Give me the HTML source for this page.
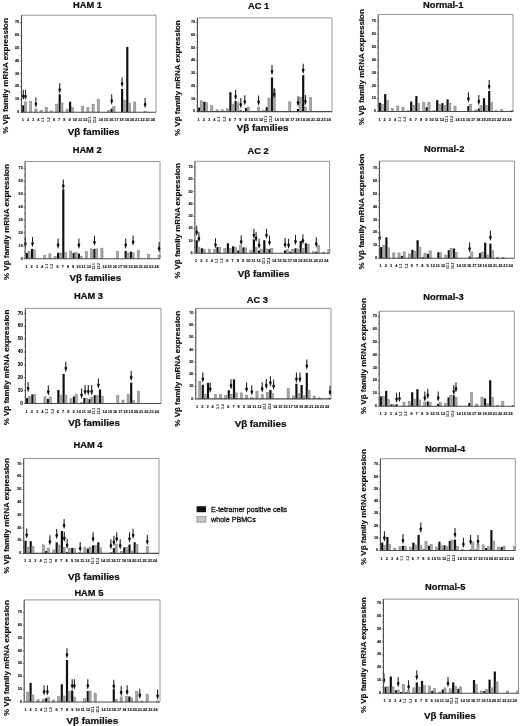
<!DOCTYPE html>
<html><head><meta charset="utf-8"><style>
html,body{margin:0;padding:0;background:#fff;}
svg{display:block;font-family:"Liberation Sans", sans-serif;will-change:transform;}
</style></head><body>
<svg width="520" height="726" viewBox="0 0 520 726" fill="#111">
<rect width="520" height="726" fill="#fff"/>
<path d="M21.5 15.2H156V112.2" fill="none" stroke="#8a8a8a" stroke-width="0.9"/>
<rect x="22.2" y="105.29" width="2.2" height="6.91" fill="#111"/>
<rect x="24.4" y="101.83" width="2.2" height="10.37" fill="#a8a8a8" stroke="#7a7a7a" stroke-width="0.5"/>
<rect x="29.6" y="101.58" width="2.2" height="10.62" fill="#a8a8a8" stroke="#7a7a7a" stroke-width="0.5"/>
<rect x="34.8" y="109" width="2.2" height="3.2" fill="#a8a8a8" stroke="#7a7a7a" stroke-width="0.5"/>
<rect x="40" y="110.41" width="2.2" height="1.79" fill="#a8a8a8" stroke="#7a7a7a" stroke-width="0.5"/>
<rect x="45.2" y="107.34" width="2.2" height="4.86" fill="#a8a8a8" stroke="#7a7a7a" stroke-width="0.5"/>
<rect x="50.4" y="110.92" width="2.2" height="1.28" fill="#a8a8a8" stroke="#7a7a7a" stroke-width="0.5"/>
<rect x="55.6" y="104.14" width="2.2" height="8.06" fill="#a8a8a8" stroke="#7a7a7a" stroke-width="0.5"/>
<rect x="58.6" y="94.28" width="2.2" height="17.92" fill="#111"/>
<rect x="60.8" y="102.98" width="2.2" height="9.22" fill="#a8a8a8" stroke="#7a7a7a" stroke-width="0.5"/>
<rect x="66" y="109.13" width="2.2" height="3.07" fill="#a8a8a8" stroke="#7a7a7a" stroke-width="0.5"/>
<rect x="69" y="101.7" width="2.2" height="10.5" fill="#111"/>
<rect x="71.2" y="107.46" width="2.2" height="4.74" fill="#a8a8a8" stroke="#7a7a7a" stroke-width="0.5"/>
<rect x="81.6" y="106.31" width="2.2" height="5.89" fill="#a8a8a8" stroke="#7a7a7a" stroke-width="0.5"/>
<rect x="86.8" y="107.46" width="2.2" height="4.74" fill="#a8a8a8" stroke="#7a7a7a" stroke-width="0.5"/>
<rect x="92" y="104.14" width="2.2" height="8.06" fill="#a8a8a8" stroke="#7a7a7a" stroke-width="0.5"/>
<rect x="97.2" y="99.4" width="2.2" height="12.8" fill="#a8a8a8" stroke="#7a7a7a" stroke-width="0.5"/>
<rect x="107.6" y="110.41" width="2.2" height="1.79" fill="#a8a8a8" stroke="#7a7a7a" stroke-width="0.5"/>
<rect x="110.6" y="108.62" width="2.2" height="3.58" fill="#111"/>
<rect x="112.8" y="106.31" width="2.2" height="5.89" fill="#a8a8a8" stroke="#7a7a7a" stroke-width="0.5"/>
<rect x="121" y="88.9" width="2.2" height="23.3" fill="#111"/>
<rect x="123.2" y="100.04" width="2.2" height="12.16" fill="#a8a8a8" stroke="#7a7a7a" stroke-width="0.5"/>
<rect x="126.2" y="46.92" width="2.2" height="65.28" fill="#111"/>
<rect x="128.4" y="102.98" width="2.2" height="9.22" fill="#a8a8a8" stroke="#7a7a7a" stroke-width="0.5"/>
<rect x="133.6" y="101.96" width="2.2" height="10.24" fill="#a8a8a8" stroke="#7a7a7a" stroke-width="0.5"/>
<rect x="144" y="111.18" width="2.2" height="1.02" fill="#a8a8a8" stroke="#7a7a7a" stroke-width="0.5"/>
<path d="M23.3 89.74V96.04" stroke="#1a1a1a" stroke-width="1.05"/>
<path d="M23.3 94.14L24.75 95.74L23.3 100.04L21.85 95.74Z" fill="#111"/>
<path d="M25.5 89.74V96.04" stroke="#1a1a1a" stroke-width="1.05"/>
<path d="M25.5 94.14L26.95 95.74L25.5 100.04L24.05 95.74Z" fill="#111"/>
<path d="M35.9 97.55V103.85" stroke="#1a1a1a" stroke-width="1.05"/>
<path d="M35.9 101.95L37.35 103.55L35.9 107.85L34.45 103.55Z" fill="#111"/>
<path d="M59.7 83.34V89.64" stroke="#1a1a1a" stroke-width="1.05"/>
<path d="M59.7 87.74L61.15 89.34L59.7 93.64L58.25 89.34Z" fill="#111"/>
<path d="M111.7 94.35V100.65" stroke="#1a1a1a" stroke-width="1.05"/>
<path d="M111.7 98.75L113.15 100.35L111.7 104.65L110.25 100.35Z" fill="#111"/>
<path d="M122.1 77.2V83.5" stroke="#1a1a1a" stroke-width="1.05"/>
<path d="M122.1 81.6L123.55 83.2L122.1 87.5L120.65 83.2Z" fill="#111"/>
<path d="M145.1 98.06V104.36" stroke="#1a1a1a" stroke-width="1.05"/>
<path d="M145.1 102.46L146.55 104.06L145.1 108.36L143.65 104.06Z" fill="#111"/>
<path d="M21.5 15.2V112.2H156" fill="none" stroke="#4a4a4a" stroke-width="1.1"/>
<path d="M20.1 112.2H21.5" stroke="#333" stroke-width="0.6"/>
<text x="19.1" y="113.01" font-size="3.7" font-weight="bold" stroke="#000" stroke-width="0.12" text-anchor="end">0</text>
<path d="M20.6 105.8H21.5" stroke="#333" stroke-width="0.6"/>
<path d="M20.1 99.4H21.5" stroke="#333" stroke-width="0.6"/>
<text x="19.1" y="100.21" font-size="3.7" font-weight="bold" stroke="#000" stroke-width="0.12" text-anchor="end">10</text>
<path d="M20.6 93H21.5" stroke="#333" stroke-width="0.6"/>
<path d="M20.1 86.6H21.5" stroke="#333" stroke-width="0.6"/>
<text x="19.1" y="87.41" font-size="3.7" font-weight="bold" stroke="#000" stroke-width="0.12" text-anchor="end">20</text>
<path d="M20.6 80.2H21.5" stroke="#333" stroke-width="0.6"/>
<path d="M20.1 73.8H21.5" stroke="#333" stroke-width="0.6"/>
<text x="19.1" y="74.61" font-size="3.7" font-weight="bold" stroke="#000" stroke-width="0.12" text-anchor="end">30</text>
<path d="M20.6 67.4H21.5" stroke="#333" stroke-width="0.6"/>
<path d="M20.1 61H21.5" stroke="#333" stroke-width="0.6"/>
<text x="19.1" y="61.81" font-size="3.7" font-weight="bold" stroke="#000" stroke-width="0.12" text-anchor="end">40</text>
<path d="M20.6 54.6H21.5" stroke="#333" stroke-width="0.6"/>
<path d="M20.1 48.2H21.5" stroke="#333" stroke-width="0.6"/>
<text x="19.1" y="49.01" font-size="3.7" font-weight="bold" stroke="#000" stroke-width="0.12" text-anchor="end">50</text>
<path d="M20.6 41.8H21.5" stroke="#333" stroke-width="0.6"/>
<path d="M20.1 35.4H21.5" stroke="#333" stroke-width="0.6"/>
<text x="19.1" y="36.21" font-size="3.7" font-weight="bold" stroke="#000" stroke-width="0.12" text-anchor="end">60</text>
<path d="M20.6 29H21.5" stroke="#333" stroke-width="0.6"/>
<path d="M20.1 22.6H21.5" stroke="#333" stroke-width="0.6"/>
<text x="19.1" y="23.41" font-size="3.7" font-weight="bold" stroke="#000" stroke-width="0.12" text-anchor="end">70</text>
<text x="22.8" y="121.2" font-size="3.9" font-weight="bold" stroke="#000" stroke-width="0.1" text-anchor="middle">1</text>
<text x="28" y="121.2" font-size="3.9" font-weight="bold" stroke="#000" stroke-width="0.1" text-anchor="middle">2</text>
<text x="33.2" y="121.2" font-size="3.9" font-weight="bold" stroke="#000" stroke-width="0.1" text-anchor="middle">3</text>
<text x="38.4" y="121.2" font-size="3.9" font-weight="bold" stroke="#000" stroke-width="0.1" text-anchor="middle">4</text>
<text x="44.5" y="119.8" font-size="3.315" font-weight="bold" text-anchor="middle" transform="rotate(-90 44.5 119.8)">5.1</text>
<text x="49.7" y="119.8" font-size="3.315" font-weight="bold" text-anchor="middle" transform="rotate(-90 49.7 119.8)">5.2</text>
<text x="54" y="121.2" font-size="3.9" font-weight="bold" stroke="#000" stroke-width="0.1" text-anchor="middle">6</text>
<text x="59.2" y="121.2" font-size="3.9" font-weight="bold" stroke="#000" stroke-width="0.1" text-anchor="middle">7</text>
<text x="64.4" y="121.2" font-size="3.9" font-weight="bold" stroke="#000" stroke-width="0.1" text-anchor="middle">8</text>
<text x="69.6" y="121.2" font-size="3.9" font-weight="bold" stroke="#000" stroke-width="0.1" text-anchor="middle">9</text>
<text x="74.8" y="121.2" font-size="3.9" font-weight="bold" stroke="#000" stroke-width="0.1" text-anchor="middle">10</text>
<text x="80" y="121.2" font-size="3.9" font-weight="bold" stroke="#000" stroke-width="0.1" text-anchor="middle">11</text>
<text x="85.2" y="121.2" font-size="3.9" font-weight="bold" stroke="#000" stroke-width="0.1" text-anchor="middle">12</text>
<text x="91.3" y="119.8" font-size="3.315" font-weight="bold" text-anchor="middle" transform="rotate(-90 91.3 119.8)">13.1</text>
<text x="96.5" y="119.8" font-size="3.315" font-weight="bold" text-anchor="middle" transform="rotate(-90 96.5 119.8)">13.2</text>
<text x="100.8" y="121.2" font-size="3.9" font-weight="bold" stroke="#000" stroke-width="0.1" text-anchor="middle">14</text>
<text x="106" y="121.2" font-size="3.9" font-weight="bold" stroke="#000" stroke-width="0.1" text-anchor="middle">15</text>
<text x="111.2" y="121.2" font-size="3.9" font-weight="bold" stroke="#000" stroke-width="0.1" text-anchor="middle">16</text>
<text x="116.4" y="121.2" font-size="3.9" font-weight="bold" stroke="#000" stroke-width="0.1" text-anchor="middle">17</text>
<text x="121.6" y="121.2" font-size="3.9" font-weight="bold" stroke="#000" stroke-width="0.1" text-anchor="middle">18</text>
<text x="126.8" y="121.2" font-size="3.9" font-weight="bold" stroke="#000" stroke-width="0.1" text-anchor="middle">19</text>
<text x="132" y="121.2" font-size="3.9" font-weight="bold" stroke="#000" stroke-width="0.1" text-anchor="middle">20</text>
<text x="137.2" y="121.2" font-size="3.9" font-weight="bold" stroke="#000" stroke-width="0.1" text-anchor="middle">21</text>
<text x="142.4" y="121.2" font-size="3.9" font-weight="bold" stroke="#000" stroke-width="0.1" text-anchor="middle">22</text>
<text x="147.6" y="121.2" font-size="3.9" font-weight="bold" stroke="#000" stroke-width="0.1" text-anchor="middle">23</text>
<text x="152.8" y="121.2" font-size="3.9" font-weight="bold" stroke="#000" stroke-width="0.1" text-anchor="middle">24</text>
<text x="73" y="7.9" font-size="9.3" font-weight="bold" stroke="#000" stroke-width="0.22">HAM 1</text>
<text x="8.45" y="76" font-size="8" font-weight="bold" stroke="#000" stroke-width="0.15" text-anchor="middle" transform="rotate(-90 8.45 76)">% V&#946; family mRNA expression</text>
<text x="93.7" y="134.5" font-size="9.8" font-weight="bold" stroke="#000" stroke-width="0.22" text-anchor="middle">V&#946; families</text>
<path d="M197.4 17.9H332V111.6" fill="none" stroke="#8a8a8a" stroke-width="0.9"/>
<rect x="198.1" y="107.52" width="2.2" height="4.08" fill="#111"/>
<rect x="200.3" y="100.76" width="2.2" height="10.84" fill="#a8a8a8" stroke="#7a7a7a" stroke-width="0.5"/>
<rect x="203.3" y="101.78" width="2.2" height="9.82" fill="#111"/>
<rect x="205.5" y="102.42" width="2.2" height="9.18" fill="#a8a8a8" stroke="#7a7a7a" stroke-width="0.5"/>
<rect x="210.7" y="105.73" width="2.2" height="5.86" fill="#a8a8a8" stroke="#7a7a7a" stroke-width="0.5"/>
<rect x="215.9" y="109.81" width="2.2" height="1.78" fill="#a8a8a8" stroke="#7a7a7a" stroke-width="0.5"/>
<rect x="221.1" y="109.81" width="2.2" height="1.78" fill="#a8a8a8" stroke="#7a7a7a" stroke-width="0.5"/>
<rect x="226.3" y="108.79" width="2.2" height="2.81" fill="#a8a8a8" stroke="#7a7a7a" stroke-width="0.5"/>
<rect x="229.3" y="92.22" width="2.2" height="19.38" fill="#111"/>
<rect x="231.5" y="104.46" width="2.2" height="7.14" fill="#a8a8a8" stroke="#7a7a7a" stroke-width="0.5"/>
<rect x="234.5" y="100.89" width="2.2" height="10.71" fill="#111"/>
<rect x="236.7" y="102.67" width="2.2" height="8.92" fill="#a8a8a8" stroke="#7a7a7a" stroke-width="0.5"/>
<rect x="239.7" y="110.32" width="2.2" height="1.27" fill="#111"/>
<rect x="244.9" y="108.03" width="2.2" height="3.57" fill="#111"/>
<rect x="247.1" y="107.01" width="2.2" height="4.59" fill="#a8a8a8" stroke="#7a7a7a" stroke-width="0.5"/>
<rect x="257.5" y="107.14" width="2.2" height="4.46" fill="#a8a8a8" stroke="#7a7a7a" stroke-width="0.5"/>
<rect x="262.7" y="110.58" width="2.2" height="1.02" fill="#a8a8a8" stroke="#7a7a7a" stroke-width="0.5"/>
<rect x="265.7" y="107.14" width="2.2" height="4.46" fill="#111"/>
<rect x="267.9" y="98.08" width="2.2" height="13.51" fill="#a8a8a8" stroke="#7a7a7a" stroke-width="0.5"/>
<rect x="270.9" y="77.43" width="2.2" height="34.17" fill="#111"/>
<rect x="273.1" y="89.54" width="2.2" height="22.06" fill="#a8a8a8" stroke="#7a7a7a" stroke-width="0.5"/>
<rect x="288.7" y="101.78" width="2.2" height="9.82" fill="#a8a8a8" stroke="#7a7a7a" stroke-width="0.5"/>
<rect x="296.9" y="108.92" width="2.2" height="2.68" fill="#111"/>
<rect x="299.1" y="97.06" width="2.2" height="14.54" fill="#a8a8a8" stroke="#7a7a7a" stroke-width="0.5"/>
<rect x="302.1" y="75.13" width="2.2" height="36.46" fill="#111"/>
<rect x="304.3" y="107.14" width="2.2" height="4.46" fill="#a8a8a8" stroke="#7a7a7a" stroke-width="0.5"/>
<rect x="309.5" y="97.32" width="2.2" height="14.28" fill="#a8a8a8" stroke="#7a7a7a" stroke-width="0.5"/>
<path d="M235.6 89.95V96.25" stroke="#1a1a1a" stroke-width="1.05"/>
<path d="M235.6 94.35L237.05 95.95L235.6 100.25L234.15 95.95Z" fill="#111"/>
<path d="M240.8 98.11V104.41" stroke="#1a1a1a" stroke-width="1.05"/>
<path d="M240.8 102.51L242.25 104.11L240.8 108.41L239.35 104.11Z" fill="#111"/>
<path d="M244.8 95.18V101.48" stroke="#1a1a1a" stroke-width="1.05"/>
<path d="M244.8 99.58L246.25 101.18L244.8 105.48L243.35 101.18Z" fill="#111"/>
<path d="M258.6 95.44V101.73" stroke="#1a1a1a" stroke-width="1.05"/>
<path d="M258.6 99.83L260.05 101.44L258.6 105.73L257.15 101.44Z" fill="#111"/>
<path d="M272 64.96V71.26" stroke="#1a1a1a" stroke-width="1.05"/>
<path d="M272 69.36L273.45 70.96L272 75.26L270.55 70.96Z" fill="#111"/>
<path d="M274.2 88.04V94.34" stroke="#1a1a1a" stroke-width="1.05"/>
<path d="M274.2 92.44L275.65 94.04L274.2 98.34L272.75 94.04Z" fill="#111"/>
<path d="M298 96.2V102.5" stroke="#1a1a1a" stroke-width="1.05"/>
<path d="M298 100.6L299.45 102.2L298 106.5L296.55 102.2Z" fill="#111"/>
<path d="M303.2 63.82V70.12" stroke="#1a1a1a" stroke-width="1.05"/>
<path d="M303.2 68.22L304.65 69.82L303.2 74.12L301.75 69.82Z" fill="#111"/>
<path d="M305.4 94.92V101.22" stroke="#1a1a1a" stroke-width="1.05"/>
<path d="M305.4 99.32L306.85 100.92L305.4 105.22L303.95 100.92Z" fill="#111"/>
<path d="M197.4 17.9V111.6H332" fill="none" stroke="#4a4a4a" stroke-width="1.1"/>
<path d="M196 111.6H197.4" stroke="#333" stroke-width="0.6"/>
<text x="195" y="112.41" font-size="3.7" font-weight="bold" stroke="#000" stroke-width="0.12" text-anchor="end">0</text>
<path d="M196.5 105.22H197.4" stroke="#333" stroke-width="0.6"/>
<path d="M196 98.85H197.4" stroke="#333" stroke-width="0.6"/>
<text x="195" y="99.66" font-size="3.7" font-weight="bold" stroke="#000" stroke-width="0.12" text-anchor="end">10</text>
<path d="M196.5 92.47H197.4" stroke="#333" stroke-width="0.6"/>
<path d="M196 86.1H197.4" stroke="#333" stroke-width="0.6"/>
<text x="195" y="86.91" font-size="3.7" font-weight="bold" stroke="#000" stroke-width="0.12" text-anchor="end">20</text>
<path d="M196.5 79.72H197.4" stroke="#333" stroke-width="0.6"/>
<path d="M196 73.35H197.4" stroke="#333" stroke-width="0.6"/>
<text x="195" y="74.16" font-size="3.7" font-weight="bold" stroke="#000" stroke-width="0.12" text-anchor="end">30</text>
<path d="M196.5 66.97H197.4" stroke="#333" stroke-width="0.6"/>
<path d="M196 60.6H197.4" stroke="#333" stroke-width="0.6"/>
<text x="195" y="61.41" font-size="3.7" font-weight="bold" stroke="#000" stroke-width="0.12" text-anchor="end">40</text>
<path d="M196.5 54.23H197.4" stroke="#333" stroke-width="0.6"/>
<path d="M196 47.85H197.4" stroke="#333" stroke-width="0.6"/>
<text x="195" y="48.66" font-size="3.7" font-weight="bold" stroke="#000" stroke-width="0.12" text-anchor="end">50</text>
<path d="M196.5 41.47H197.4" stroke="#333" stroke-width="0.6"/>
<path d="M196 35.1H197.4" stroke="#333" stroke-width="0.6"/>
<text x="195" y="35.91" font-size="3.7" font-weight="bold" stroke="#000" stroke-width="0.12" text-anchor="end">60</text>
<path d="M196.5 28.72H197.4" stroke="#333" stroke-width="0.6"/>
<path d="M196 22.35H197.4" stroke="#333" stroke-width="0.6"/>
<text x="195" y="23.16" font-size="3.7" font-weight="bold" stroke="#000" stroke-width="0.12" text-anchor="end">70</text>
<text x="198.7" y="120.6" font-size="3.9" font-weight="bold" stroke="#000" stroke-width="0.1" text-anchor="middle">1</text>
<text x="203.9" y="120.6" font-size="3.9" font-weight="bold" stroke="#000" stroke-width="0.1" text-anchor="middle">2</text>
<text x="209.1" y="120.6" font-size="3.9" font-weight="bold" stroke="#000" stroke-width="0.1" text-anchor="middle">3</text>
<text x="214.3" y="120.6" font-size="3.9" font-weight="bold" stroke="#000" stroke-width="0.1" text-anchor="middle">4</text>
<text x="220.4" y="119.2" font-size="3.315" font-weight="bold" text-anchor="middle" transform="rotate(-90 220.4 119.2)">5.1</text>
<text x="225.6" y="119.2" font-size="3.315" font-weight="bold" text-anchor="middle" transform="rotate(-90 225.6 119.2)">5.2</text>
<text x="229.9" y="120.6" font-size="3.9" font-weight="bold" stroke="#000" stroke-width="0.1" text-anchor="middle">6</text>
<text x="235.1" y="120.6" font-size="3.9" font-weight="bold" stroke="#000" stroke-width="0.1" text-anchor="middle">7</text>
<text x="240.3" y="120.6" font-size="3.9" font-weight="bold" stroke="#000" stroke-width="0.1" text-anchor="middle">8</text>
<text x="245.5" y="120.6" font-size="3.9" font-weight="bold" stroke="#000" stroke-width="0.1" text-anchor="middle">9</text>
<text x="250.7" y="120.6" font-size="3.9" font-weight="bold" stroke="#000" stroke-width="0.1" text-anchor="middle">10</text>
<text x="255.9" y="120.6" font-size="3.9" font-weight="bold" stroke="#000" stroke-width="0.1" text-anchor="middle">11</text>
<text x="261.1" y="120.6" font-size="3.9" font-weight="bold" stroke="#000" stroke-width="0.1" text-anchor="middle">12</text>
<text x="267.2" y="119.2" font-size="3.315" font-weight="bold" text-anchor="middle" transform="rotate(-90 267.2 119.2)">13.1</text>
<text x="272.4" y="119.2" font-size="3.315" font-weight="bold" text-anchor="middle" transform="rotate(-90 272.4 119.2)">13.2</text>
<text x="276.7" y="120.6" font-size="3.9" font-weight="bold" stroke="#000" stroke-width="0.1" text-anchor="middle">14</text>
<text x="281.9" y="120.6" font-size="3.9" font-weight="bold" stroke="#000" stroke-width="0.1" text-anchor="middle">15</text>
<text x="287.1" y="120.6" font-size="3.9" font-weight="bold" stroke="#000" stroke-width="0.1" text-anchor="middle">16</text>
<text x="292.3" y="120.6" font-size="3.9" font-weight="bold" stroke="#000" stroke-width="0.1" text-anchor="middle">17</text>
<text x="297.5" y="120.6" font-size="3.9" font-weight="bold" stroke="#000" stroke-width="0.1" text-anchor="middle">18</text>
<text x="302.7" y="120.6" font-size="3.9" font-weight="bold" stroke="#000" stroke-width="0.1" text-anchor="middle">19</text>
<text x="307.9" y="120.6" font-size="3.9" font-weight="bold" stroke="#000" stroke-width="0.1" text-anchor="middle">20</text>
<text x="313.1" y="120.6" font-size="3.9" font-weight="bold" stroke="#000" stroke-width="0.1" text-anchor="middle">21</text>
<text x="318.3" y="120.6" font-size="3.9" font-weight="bold" stroke="#000" stroke-width="0.1" text-anchor="middle">22</text>
<text x="323.5" y="120.6" font-size="3.9" font-weight="bold" stroke="#000" stroke-width="0.1" text-anchor="middle">23</text>
<text x="328.7" y="120.6" font-size="3.9" font-weight="bold" stroke="#000" stroke-width="0.1" text-anchor="middle">24</text>
<text x="248" y="8.8" font-size="9.3" font-weight="bold" stroke="#000" stroke-width="0.22">AC 1</text>
<text x="180.25" y="78.1" font-size="8" font-weight="bold" stroke="#000" stroke-width="0.15" text-anchor="middle" transform="rotate(-90 180.25 78.1)">% V&#946; family mRNA expression</text>
<text x="262.6" y="131.1" font-size="9.8" font-weight="bold" stroke="#000" stroke-width="0.22" text-anchor="middle">V&#946; families</text>
<path d="M378.2 14.4H513V111.5" fill="none" stroke="#8a8a8a" stroke-width="0.9"/>
<rect x="378.9" y="102.73" width="2.2" height="8.77" fill="#111"/>
<rect x="381.1" y="104.53" width="2.2" height="6.97" fill="#a8a8a8" stroke="#7a7a7a" stroke-width="0.5"/>
<rect x="384.1" y="94.09" width="2.2" height="17.41" fill="#111"/>
<rect x="386.3" y="100.15" width="2.2" height="11.35" fill="#a8a8a8" stroke="#7a7a7a" stroke-width="0.5"/>
<rect x="391.5" y="108.53" width="2.2" height="2.97" fill="#a8a8a8" stroke="#7a7a7a" stroke-width="0.5"/>
<rect x="396.7" y="106.08" width="2.2" height="5.42" fill="#a8a8a8" stroke="#7a7a7a" stroke-width="0.5"/>
<rect x="401.9" y="107.24" width="2.2" height="4.26" fill="#a8a8a8" stroke="#7a7a7a" stroke-width="0.5"/>
<rect x="407.1" y="110.6" width="2.2" height="0.9" fill="#a8a8a8" stroke="#7a7a7a" stroke-width="0.5"/>
<rect x="410.1" y="101.57" width="2.2" height="9.93" fill="#111"/>
<rect x="412.3" y="105.18" width="2.2" height="6.32" fill="#a8a8a8" stroke="#7a7a7a" stroke-width="0.5"/>
<rect x="415.3" y="96.02" width="2.2" height="15.48" fill="#111"/>
<rect x="417.5" y="103.5" width="2.2" height="8" fill="#a8a8a8" stroke="#7a7a7a" stroke-width="0.5"/>
<rect x="422.7" y="102.21" width="2.2" height="9.29" fill="#a8a8a8" stroke="#7a7a7a" stroke-width="0.5"/>
<rect x="425.7" y="107.24" width="2.2" height="4.26" fill="#111"/>
<rect x="427.9" y="102.21" width="2.2" height="9.29" fill="#a8a8a8" stroke="#7a7a7a" stroke-width="0.5"/>
<rect x="433.1" y="110.6" width="2.2" height="0.9" fill="#a8a8a8" stroke="#7a7a7a" stroke-width="0.5"/>
<rect x="436.1" y="100.15" width="2.2" height="11.35" fill="#111"/>
<rect x="438.3" y="104.28" width="2.2" height="7.22" fill="#a8a8a8" stroke="#7a7a7a" stroke-width="0.5"/>
<rect x="441.3" y="103.11" width="2.2" height="8.38" fill="#111"/>
<rect x="443.5" y="105.31" width="2.2" height="6.19" fill="#a8a8a8" stroke="#7a7a7a" stroke-width="0.5"/>
<rect x="446.5" y="99.37" width="2.2" height="12.13" fill="#111"/>
<rect x="448.7" y="103.11" width="2.2" height="8.38" fill="#a8a8a8" stroke="#7a7a7a" stroke-width="0.5"/>
<rect x="453.9" y="106.08" width="2.2" height="5.42" fill="#a8a8a8" stroke="#7a7a7a" stroke-width="0.5"/>
<rect x="467.3" y="106.08" width="2.2" height="5.42" fill="#111"/>
<rect x="469.5" y="104.28" width="2.2" height="7.22" fill="#a8a8a8" stroke="#7a7a7a" stroke-width="0.5"/>
<rect x="474.7" y="109.95" width="2.2" height="1.55" fill="#a8a8a8" stroke="#7a7a7a" stroke-width="0.5"/>
<rect x="477.7" y="108.53" width="2.2" height="2.97" fill="#111"/>
<rect x="479.9" y="105.57" width="2.2" height="5.93" fill="#a8a8a8" stroke="#7a7a7a" stroke-width="0.5"/>
<rect x="482.9" y="98.21" width="2.2" height="13.29" fill="#111"/>
<rect x="485.1" y="105.18" width="2.2" height="6.32" fill="#a8a8a8" stroke="#7a7a7a" stroke-width="0.5"/>
<rect x="488.1" y="90.99" width="2.2" height="20.51" fill="#111"/>
<rect x="490.3" y="102.21" width="2.2" height="9.29" fill="#a8a8a8" stroke="#7a7a7a" stroke-width="0.5"/>
<rect x="495.5" y="110.6" width="2.2" height="0.9" fill="#a8a8a8" stroke="#7a7a7a" stroke-width="0.5"/>
<rect x="500.7" y="109.18" width="2.2" height="2.32" fill="#a8a8a8" stroke="#7a7a7a" stroke-width="0.5"/>
<rect x="511.1" y="110.6" width="2.2" height="0.9" fill="#a8a8a8" stroke="#7a7a7a" stroke-width="0.5"/>
<path d="M468.4 92.17V98.47" stroke="#1a1a1a" stroke-width="1.05"/>
<path d="M468.4 96.57L469.85 98.17L468.4 102.47L466.95 98.17Z" fill="#111"/>
<path d="M478.8 94.88V101.18" stroke="#1a1a1a" stroke-width="1.05"/>
<path d="M478.8 99.28L480.25 100.88L478.8 105.18L477.35 100.88Z" fill="#111"/>
<path d="M489.2 79.92V86.22" stroke="#1a1a1a" stroke-width="1.05"/>
<path d="M489.2 84.31L490.65 85.92L489.2 90.22L487.75 85.92Z" fill="#111"/>
<path d="M378.2 14.4V111.5H513" fill="none" stroke="#4a4a4a" stroke-width="1.1"/>
<path d="M376.8 111.5H378.2" stroke="#333" stroke-width="0.6"/>
<text x="375.8" y="112.31" font-size="3.7" font-weight="bold" stroke="#000" stroke-width="0.12" text-anchor="end">0</text>
<path d="M377.3 105.05H378.2" stroke="#333" stroke-width="0.6"/>
<path d="M376.8 98.6H378.2" stroke="#333" stroke-width="0.6"/>
<text x="375.8" y="99.41" font-size="3.7" font-weight="bold" stroke="#000" stroke-width="0.12" text-anchor="end">10</text>
<path d="M377.3 92.15H378.2" stroke="#333" stroke-width="0.6"/>
<path d="M376.8 85.7H378.2" stroke="#333" stroke-width="0.6"/>
<text x="375.8" y="86.51" font-size="3.7" font-weight="bold" stroke="#000" stroke-width="0.12" text-anchor="end">20</text>
<path d="M377.3 79.25H378.2" stroke="#333" stroke-width="0.6"/>
<path d="M376.8 72.8H378.2" stroke="#333" stroke-width="0.6"/>
<text x="375.8" y="73.61" font-size="3.7" font-weight="bold" stroke="#000" stroke-width="0.12" text-anchor="end">30</text>
<path d="M377.3 66.35H378.2" stroke="#333" stroke-width="0.6"/>
<path d="M376.8 59.9H378.2" stroke="#333" stroke-width="0.6"/>
<text x="375.8" y="60.71" font-size="3.7" font-weight="bold" stroke="#000" stroke-width="0.12" text-anchor="end">40</text>
<path d="M377.3 53.45H378.2" stroke="#333" stroke-width="0.6"/>
<path d="M376.8 47H378.2" stroke="#333" stroke-width="0.6"/>
<text x="375.8" y="47.81" font-size="3.7" font-weight="bold" stroke="#000" stroke-width="0.12" text-anchor="end">50</text>
<path d="M377.3 40.55H378.2" stroke="#333" stroke-width="0.6"/>
<path d="M376.8 34.1H378.2" stroke="#333" stroke-width="0.6"/>
<text x="375.8" y="34.91" font-size="3.7" font-weight="bold" stroke="#000" stroke-width="0.12" text-anchor="end">60</text>
<path d="M377.3 27.65H378.2" stroke="#333" stroke-width="0.6"/>
<path d="M376.8 21.2H378.2" stroke="#333" stroke-width="0.6"/>
<text x="375.8" y="22.01" font-size="3.7" font-weight="bold" stroke="#000" stroke-width="0.12" text-anchor="end">70</text>
<text x="379.5" y="120.5" font-size="3.9" font-weight="bold" stroke="#000" stroke-width="0.1" text-anchor="middle">1</text>
<text x="384.7" y="120.5" font-size="3.9" font-weight="bold" stroke="#000" stroke-width="0.1" text-anchor="middle">2</text>
<text x="389.9" y="120.5" font-size="3.9" font-weight="bold" stroke="#000" stroke-width="0.1" text-anchor="middle">3</text>
<text x="395.1" y="120.5" font-size="3.9" font-weight="bold" stroke="#000" stroke-width="0.1" text-anchor="middle">4</text>
<text x="401.2" y="119.1" font-size="3.315" font-weight="bold" text-anchor="middle" transform="rotate(-90 401.2 119.1)">5.1</text>
<text x="406.4" y="119.1" font-size="3.315" font-weight="bold" text-anchor="middle" transform="rotate(-90 406.4 119.1)">5.2</text>
<text x="410.7" y="120.5" font-size="3.9" font-weight="bold" stroke="#000" stroke-width="0.1" text-anchor="middle">6</text>
<text x="415.9" y="120.5" font-size="3.9" font-weight="bold" stroke="#000" stroke-width="0.1" text-anchor="middle">7</text>
<text x="421.1" y="120.5" font-size="3.9" font-weight="bold" stroke="#000" stroke-width="0.1" text-anchor="middle">8</text>
<text x="426.3" y="120.5" font-size="3.9" font-weight="bold" stroke="#000" stroke-width="0.1" text-anchor="middle">9</text>
<text x="431.5" y="120.5" font-size="3.9" font-weight="bold" stroke="#000" stroke-width="0.1" text-anchor="middle">10</text>
<text x="436.7" y="120.5" font-size="3.9" font-weight="bold" stroke="#000" stroke-width="0.1" text-anchor="middle">11</text>
<text x="441.9" y="120.5" font-size="3.9" font-weight="bold" stroke="#000" stroke-width="0.1" text-anchor="middle">12</text>
<text x="448" y="119.1" font-size="3.315" font-weight="bold" text-anchor="middle" transform="rotate(-90 448 119.1)">13.1</text>
<text x="453.2" y="119.1" font-size="3.315" font-weight="bold" text-anchor="middle" transform="rotate(-90 453.2 119.1)">13.2</text>
<text x="457.5" y="120.5" font-size="3.9" font-weight="bold" stroke="#000" stroke-width="0.1" text-anchor="middle">14</text>
<text x="462.7" y="120.5" font-size="3.9" font-weight="bold" stroke="#000" stroke-width="0.1" text-anchor="middle">15</text>
<text x="467.9" y="120.5" font-size="3.9" font-weight="bold" stroke="#000" stroke-width="0.1" text-anchor="middle">16</text>
<text x="473.1" y="120.5" font-size="3.9" font-weight="bold" stroke="#000" stroke-width="0.1" text-anchor="middle">17</text>
<text x="478.3" y="120.5" font-size="3.9" font-weight="bold" stroke="#000" stroke-width="0.1" text-anchor="middle">18</text>
<text x="483.5" y="120.5" font-size="3.9" font-weight="bold" stroke="#000" stroke-width="0.1" text-anchor="middle">19</text>
<text x="488.7" y="120.5" font-size="3.9" font-weight="bold" stroke="#000" stroke-width="0.1" text-anchor="middle">20</text>
<text x="493.9" y="120.5" font-size="3.9" font-weight="bold" stroke="#000" stroke-width="0.1" text-anchor="middle">21</text>
<text x="499.1" y="120.5" font-size="3.9" font-weight="bold" stroke="#000" stroke-width="0.1" text-anchor="middle">22</text>
<text x="504.3" y="120.5" font-size="3.9" font-weight="bold" stroke="#000" stroke-width="0.1" text-anchor="middle">23</text>
<text x="509.5" y="120.5" font-size="3.9" font-weight="bold" stroke="#000" stroke-width="0.1" text-anchor="middle">24</text>
<text x="423" y="7.6" font-size="9.3" font-weight="bold" stroke="#000" stroke-width="0.22">Normal-1</text>
<text x="364.35" y="67" font-size="8" font-weight="bold" stroke="#000" stroke-width="0.15" text-anchor="middle" transform="rotate(-90 364.35 67)">% V&#946; family mRNA expression</text>
<path d="M25.1 161.5H160V258.7" fill="none" stroke="#8a8a8a" stroke-width="0.9"/>
<rect x="25.8" y="252.89" width="2.2" height="5.8" fill="#111"/>
<rect x="28" y="251.35" width="2.2" height="7.35" fill="#a8a8a8" stroke="#7a7a7a" stroke-width="0.5"/>
<rect x="31" y="248.9" width="2.2" height="9.8" fill="#111"/>
<rect x="33.2" y="249.93" width="2.2" height="8.77" fill="#a8a8a8" stroke="#7a7a7a" stroke-width="0.5"/>
<rect x="43.6" y="255.6" width="2.2" height="3.1" fill="#a8a8a8" stroke="#7a7a7a" stroke-width="0.5"/>
<rect x="48.8" y="253.8" width="2.2" height="4.9" fill="#a8a8a8" stroke="#7a7a7a" stroke-width="0.5"/>
<rect x="54" y="256.25" width="2.2" height="2.45" fill="#a8a8a8" stroke="#7a7a7a" stroke-width="0.5"/>
<rect x="57" y="252.89" width="2.2" height="5.8" fill="#111"/>
<rect x="59.2" y="252.89" width="2.2" height="5.8" fill="#a8a8a8" stroke="#7a7a7a" stroke-width="0.5"/>
<rect x="62.2" y="189.3" width="2.2" height="69.4" fill="#111"/>
<rect x="64.4" y="252.25" width="2.2" height="6.45" fill="#a8a8a8" stroke="#7a7a7a" stroke-width="0.5"/>
<rect x="69.6" y="250.96" width="2.2" height="7.74" fill="#a8a8a8" stroke="#7a7a7a" stroke-width="0.5"/>
<rect x="72.6" y="252.89" width="2.2" height="5.8" fill="#111"/>
<rect x="74.8" y="252.25" width="2.2" height="6.45" fill="#a8a8a8" stroke="#7a7a7a" stroke-width="0.5"/>
<rect x="77.8" y="253.54" width="2.2" height="5.16" fill="#111"/>
<rect x="80" y="256.25" width="2.2" height="2.45" fill="#a8a8a8" stroke="#7a7a7a" stroke-width="0.5"/>
<rect x="85.2" y="251.6" width="2.2" height="7.1" fill="#a8a8a8" stroke="#7a7a7a" stroke-width="0.5"/>
<rect x="90.4" y="248.9" width="2.2" height="9.8" fill="#a8a8a8" stroke="#7a7a7a" stroke-width="0.5"/>
<rect x="93.4" y="248.9" width="2.2" height="9.8" fill="#111"/>
<rect x="95.6" y="248.9" width="2.2" height="9.8" fill="#a8a8a8" stroke="#7a7a7a" stroke-width="0.5"/>
<rect x="100.8" y="248.12" width="2.2" height="10.58" fill="#a8a8a8" stroke="#7a7a7a" stroke-width="0.5"/>
<rect x="116.4" y="251.22" width="2.2" height="7.48" fill="#a8a8a8" stroke="#7a7a7a" stroke-width="0.5"/>
<rect x="124.6" y="250.96" width="2.2" height="7.74" fill="#111"/>
<rect x="126.8" y="253.02" width="2.2" height="5.68" fill="#a8a8a8" stroke="#7a7a7a" stroke-width="0.5"/>
<rect x="129.8" y="251.6" width="2.2" height="7.1" fill="#111"/>
<rect x="132" y="252.77" width="2.2" height="5.93" fill="#a8a8a8" stroke="#7a7a7a" stroke-width="0.5"/>
<rect x="137.2" y="250.19" width="2.2" height="8.51" fill="#a8a8a8" stroke="#7a7a7a" stroke-width="0.5"/>
<rect x="147.6" y="254.19" width="2.2" height="4.52" fill="#a8a8a8" stroke="#7a7a7a" stroke-width="0.5"/>
<rect x="158" y="255.09" width="2.2" height="3.61" fill="#a8a8a8" stroke="#7a7a7a" stroke-width="0.5"/>
<path d="M25.4 237.18V243.48" stroke="#1a1a1a" stroke-width="1.05"/>
<path d="M25.4 241.58L26.85 243.18L25.4 247.48L23.95 243.18Z" fill="#111"/>
<path d="M32.5 237.05V243.35" stroke="#1a1a1a" stroke-width="1.05"/>
<path d="M32.5 241.45L33.95 243.05L32.5 247.35L31.05 243.05Z" fill="#111"/>
<path d="M58.1 238.6V244.9" stroke="#1a1a1a" stroke-width="1.05"/>
<path d="M58.1 243L59.55 244.6L58.1 248.9L56.65 244.6Z" fill="#111"/>
<path d="M63.3 179.38V185.69" stroke="#1a1a1a" stroke-width="1.05"/>
<path d="M63.3 183.78L64.75 185.38L63.3 189.69L61.85 185.38Z" fill="#111"/>
<path d="M78.9 238.6V244.9" stroke="#1a1a1a" stroke-width="1.05"/>
<path d="M78.9 243L80.35 244.6L78.9 248.9L77.45 244.6Z" fill="#111"/>
<path d="M94.5 235.76V242.06" stroke="#1a1a1a" stroke-width="1.05"/>
<path d="M94.5 240.16L95.95 241.76L94.5 246.06L93.05 241.76Z" fill="#111"/>
<path d="M125.7 238.6V244.9" stroke="#1a1a1a" stroke-width="1.05"/>
<path d="M125.7 243L127.15 244.6L125.7 248.9L124.25 244.6Z" fill="#111"/>
<path d="M133.1 235.5V241.8" stroke="#1a1a1a" stroke-width="1.05"/>
<path d="M133.1 239.9L134.55 241.5L133.1 245.8L131.65 241.5Z" fill="#111"/>
<path d="M159.1 242.08V248.38" stroke="#1a1a1a" stroke-width="1.05"/>
<path d="M159.1 246.48L160.55 248.08L159.1 252.38L157.65 248.08Z" fill="#111"/>
<path d="M25.1 161.5V258.7H160" fill="none" stroke="#4a4a4a" stroke-width="1.1"/>
<path d="M23.7 258.7H25.1" stroke="#333" stroke-width="0.6"/>
<text x="22.7" y="259.51" font-size="3.7" font-weight="bold" stroke="#000" stroke-width="0.12" text-anchor="end">0</text>
<path d="M24.2 252.25H25.1" stroke="#333" stroke-width="0.6"/>
<path d="M23.7 245.8H25.1" stroke="#333" stroke-width="0.6"/>
<text x="22.7" y="246.61" font-size="3.7" font-weight="bold" stroke="#000" stroke-width="0.12" text-anchor="end">10</text>
<path d="M24.2 239.35H25.1" stroke="#333" stroke-width="0.6"/>
<path d="M23.7 232.9H25.1" stroke="#333" stroke-width="0.6"/>
<text x="22.7" y="233.71" font-size="3.7" font-weight="bold" stroke="#000" stroke-width="0.12" text-anchor="end">20</text>
<path d="M24.2 226.45H25.1" stroke="#333" stroke-width="0.6"/>
<path d="M23.7 220H25.1" stroke="#333" stroke-width="0.6"/>
<text x="22.7" y="220.81" font-size="3.7" font-weight="bold" stroke="#000" stroke-width="0.12" text-anchor="end">30</text>
<path d="M24.2 213.55H25.1" stroke="#333" stroke-width="0.6"/>
<path d="M23.7 207.1H25.1" stroke="#333" stroke-width="0.6"/>
<text x="22.7" y="207.91" font-size="3.7" font-weight="bold" stroke="#000" stroke-width="0.12" text-anchor="end">40</text>
<path d="M24.2 200.65H25.1" stroke="#333" stroke-width="0.6"/>
<path d="M23.7 194.2H25.1" stroke="#333" stroke-width="0.6"/>
<text x="22.7" y="195.01" font-size="3.7" font-weight="bold" stroke="#000" stroke-width="0.12" text-anchor="end">50</text>
<path d="M24.2 187.75H25.1" stroke="#333" stroke-width="0.6"/>
<path d="M23.7 181.3H25.1" stroke="#333" stroke-width="0.6"/>
<text x="22.7" y="182.11" font-size="3.7" font-weight="bold" stroke="#000" stroke-width="0.12" text-anchor="end">60</text>
<path d="M24.2 174.85H25.1" stroke="#333" stroke-width="0.6"/>
<path d="M23.7 168.4H25.1" stroke="#333" stroke-width="0.6"/>
<text x="22.7" y="169.21" font-size="3.7" font-weight="bold" stroke="#000" stroke-width="0.12" text-anchor="end">70</text>
<text x="26.4" y="267.7" font-size="3.9" font-weight="bold" stroke="#000" stroke-width="0.1" text-anchor="middle">1</text>
<text x="31.6" y="267.7" font-size="3.9" font-weight="bold" stroke="#000" stroke-width="0.1" text-anchor="middle">2</text>
<text x="36.8" y="267.7" font-size="3.9" font-weight="bold" stroke="#000" stroke-width="0.1" text-anchor="middle">3</text>
<text x="42" y="267.7" font-size="3.9" font-weight="bold" stroke="#000" stroke-width="0.1" text-anchor="middle">4</text>
<text x="48.1" y="266.3" font-size="3.315" font-weight="bold" text-anchor="middle" transform="rotate(-90 48.1 266.3)">5.1</text>
<text x="53.3" y="266.3" font-size="3.315" font-weight="bold" text-anchor="middle" transform="rotate(-90 53.3 266.3)">5.2</text>
<text x="57.6" y="267.7" font-size="3.9" font-weight="bold" stroke="#000" stroke-width="0.1" text-anchor="middle">6</text>
<text x="62.8" y="267.7" font-size="3.9" font-weight="bold" stroke="#000" stroke-width="0.1" text-anchor="middle">7</text>
<text x="68" y="267.7" font-size="3.9" font-weight="bold" stroke="#000" stroke-width="0.1" text-anchor="middle">8</text>
<text x="73.2" y="267.7" font-size="3.9" font-weight="bold" stroke="#000" stroke-width="0.1" text-anchor="middle">9</text>
<text x="78.4" y="267.7" font-size="3.9" font-weight="bold" stroke="#000" stroke-width="0.1" text-anchor="middle">10</text>
<text x="83.6" y="267.7" font-size="3.9" font-weight="bold" stroke="#000" stroke-width="0.1" text-anchor="middle">11</text>
<text x="88.8" y="267.7" font-size="3.9" font-weight="bold" stroke="#000" stroke-width="0.1" text-anchor="middle">12</text>
<text x="94.9" y="266.3" font-size="3.315" font-weight="bold" text-anchor="middle" transform="rotate(-90 94.9 266.3)">13.1</text>
<text x="100.1" y="266.3" font-size="3.315" font-weight="bold" text-anchor="middle" transform="rotate(-90 100.1 266.3)">13.2</text>
<text x="104.4" y="267.7" font-size="3.9" font-weight="bold" stroke="#000" stroke-width="0.1" text-anchor="middle">14</text>
<text x="109.6" y="267.7" font-size="3.9" font-weight="bold" stroke="#000" stroke-width="0.1" text-anchor="middle">15</text>
<text x="114.8" y="267.7" font-size="3.9" font-weight="bold" stroke="#000" stroke-width="0.1" text-anchor="middle">16</text>
<text x="120" y="267.7" font-size="3.9" font-weight="bold" stroke="#000" stroke-width="0.1" text-anchor="middle">17</text>
<text x="125.2" y="267.7" font-size="3.9" font-weight="bold" stroke="#000" stroke-width="0.1" text-anchor="middle">18</text>
<text x="130.4" y="267.7" font-size="3.9" font-weight="bold" stroke="#000" stroke-width="0.1" text-anchor="middle">19</text>
<text x="135.6" y="267.7" font-size="3.9" font-weight="bold" stroke="#000" stroke-width="0.1" text-anchor="middle">20</text>
<text x="140.8" y="267.7" font-size="3.9" font-weight="bold" stroke="#000" stroke-width="0.1" text-anchor="middle">21</text>
<text x="146" y="267.7" font-size="3.9" font-weight="bold" stroke="#000" stroke-width="0.1" text-anchor="middle">22</text>
<text x="151.2" y="267.7" font-size="3.9" font-weight="bold" stroke="#000" stroke-width="0.1" text-anchor="middle">23</text>
<text x="156.4" y="267.7" font-size="3.9" font-weight="bold" stroke="#000" stroke-width="0.1" text-anchor="middle">24</text>
<text x="72.7" y="152.8" font-size="9.3" font-weight="bold" stroke="#000" stroke-width="0.22">HAM 2</text>
<text x="8.6" y="222.1" font-size="8" font-weight="bold" stroke="#000" stroke-width="0.15" text-anchor="middle" transform="rotate(-90 8.6 222.1)">% V&#946; family mRNA expression</text>
<text x="95.3" y="281" font-size="9.8" font-weight="bold" stroke="#000" stroke-width="0.22" text-anchor="middle">V&#946; families</text>
<path d="M194.9 161.3H329.6V253.2" fill="none" stroke="#8a8a8a" stroke-width="0.9"/>
<rect x="195.6" y="240.28" width="2.2" height="12.91" fill="#111"/>
<rect x="197.8" y="247.17" width="2.2" height="6.03" fill="#a8a8a8" stroke="#7a7a7a" stroke-width="0.5"/>
<rect x="200.8" y="248.28" width="2.2" height="4.92" fill="#111"/>
<rect x="203" y="249.14" width="2.2" height="4.06" fill="#a8a8a8" stroke="#7a7a7a" stroke-width="0.5"/>
<rect x="208.2" y="249.14" width="2.2" height="4.06" fill="#a8a8a8" stroke="#7a7a7a" stroke-width="0.5"/>
<rect x="213.4" y="249.14" width="2.2" height="4.06" fill="#a8a8a8" stroke="#7a7a7a" stroke-width="0.5"/>
<rect x="216.4" y="247.17" width="2.2" height="6.03" fill="#111"/>
<rect x="218.6" y="247.17" width="2.2" height="6.03" fill="#a8a8a8" stroke="#7a7a7a" stroke-width="0.5"/>
<rect x="223.8" y="248.28" width="2.2" height="4.92" fill="#a8a8a8" stroke="#7a7a7a" stroke-width="0.5"/>
<rect x="226.8" y="243.24" width="2.2" height="9.96" fill="#111"/>
<rect x="229" y="248.53" width="2.2" height="4.67" fill="#a8a8a8" stroke="#7a7a7a" stroke-width="0.5"/>
<rect x="232" y="246.31" width="2.2" height="6.89" fill="#111"/>
<rect x="234.2" y="247.17" width="2.2" height="6.03" fill="#a8a8a8" stroke="#7a7a7a" stroke-width="0.5"/>
<rect x="237.2" y="250.49" width="2.2" height="2.71" fill="#111"/>
<rect x="239.4" y="245.45" width="2.2" height="7.75" fill="#a8a8a8" stroke="#7a7a7a" stroke-width="0.5"/>
<rect x="242.4" y="247.42" width="2.2" height="5.78" fill="#111"/>
<rect x="244.6" y="247.91" width="2.2" height="5.29" fill="#a8a8a8" stroke="#7a7a7a" stroke-width="0.5"/>
<rect x="249.8" y="250.49" width="2.2" height="2.71" fill="#a8a8a8" stroke="#7a7a7a" stroke-width="0.5"/>
<rect x="252.8" y="239.42" width="2.2" height="13.78" fill="#111"/>
<rect x="255" y="247.66" width="2.2" height="5.54" fill="#a8a8a8" stroke="#7a7a7a" stroke-width="0.5"/>
<rect x="258" y="250.49" width="2.2" height="2.71" fill="#111"/>
<rect x="260.2" y="249.39" width="2.2" height="3.81" fill="#a8a8a8" stroke="#7a7a7a" stroke-width="0.5"/>
<rect x="263.2" y="240.16" width="2.2" height="13.04" fill="#111"/>
<rect x="265.4" y="248.89" width="2.2" height="4.3" fill="#a8a8a8" stroke="#7a7a7a" stroke-width="0.5"/>
<rect x="268.4" y="249.02" width="2.2" height="4.18" fill="#111"/>
<rect x="270.6" y="248.28" width="2.2" height="4.92" fill="#a8a8a8" stroke="#7a7a7a" stroke-width="0.5"/>
<rect x="284" y="250.49" width="2.2" height="2.71" fill="#111"/>
<rect x="286.2" y="249.76" width="2.2" height="3.44" fill="#a8a8a8" stroke="#7a7a7a" stroke-width="0.5"/>
<rect x="289.2" y="251.72" width="2.2" height="1.48" fill="#111"/>
<rect x="291.4" y="249.39" width="2.2" height="3.81" fill="#a8a8a8" stroke="#7a7a7a" stroke-width="0.5"/>
<rect x="294.4" y="248.28" width="2.2" height="4.92" fill="#111"/>
<rect x="296.6" y="249.02" width="2.2" height="4.18" fill="#a8a8a8" stroke="#7a7a7a" stroke-width="0.5"/>
<rect x="299.6" y="241.02" width="2.2" height="12.18" fill="#111"/>
<rect x="301.8" y="248.28" width="2.2" height="4.92" fill="#a8a8a8" stroke="#7a7a7a" stroke-width="0.5"/>
<rect x="304.8" y="243.24" width="2.2" height="9.96" fill="#111"/>
<rect x="307" y="244.47" width="2.2" height="8.73" fill="#a8a8a8" stroke="#7a7a7a" stroke-width="0.5"/>
<rect x="312.2" y="251.72" width="2.2" height="1.48" fill="#a8a8a8" stroke="#7a7a7a" stroke-width="0.5"/>
<rect x="315.2" y="251.72" width="2.2" height="1.48" fill="#111"/>
<rect x="317.4" y="245.2" width="2.2" height="8" fill="#a8a8a8" stroke="#7a7a7a" stroke-width="0.5"/>
<rect x="322.6" y="252.09" width="2.2" height="1.11" fill="#a8a8a8" stroke="#7a7a7a" stroke-width="0.5"/>
<rect x="327.8" y="249.51" width="2.2" height="3.69" fill="#a8a8a8" stroke="#7a7a7a" stroke-width="0.5"/>
<path d="M196.7 225.68V231.98" stroke="#1a1a1a" stroke-width="1.05"/>
<path d="M196.7 230.08L198.15 231.68L196.7 235.98L195.25 231.68Z" fill="#111"/>
<path d="M198.9 232.2V238.5" stroke="#1a1a1a" stroke-width="1.05"/>
<path d="M198.9 236.6L200.35 238.2L198.9 242.5L197.45 238.2Z" fill="#111"/>
<path d="M215.5 238.23V244.53" stroke="#1a1a1a" stroke-width="1.05"/>
<path d="M215.5 242.63L216.95 244.23L215.5 248.53L214.05 244.23Z" fill="#111"/>
<path d="M241.2 235.27V241.57" stroke="#1a1a1a" stroke-width="1.05"/>
<path d="M241.2 239.67L242.65 241.27L241.2 245.57L239.75 241.27Z" fill="#111"/>
<path d="M253.9 228.75V235.05" stroke="#1a1a1a" stroke-width="1.05"/>
<path d="M253.9 233.15L255.35 234.75L253.9 239.05L252.45 234.75Z" fill="#111"/>
<path d="M256.1 231.83V238.13" stroke="#1a1a1a" stroke-width="1.05"/>
<path d="M256.1 236.23L257.55 237.83L256.1 242.13L254.65 237.83Z" fill="#111"/>
<path d="M259.1 238.72V245.02" stroke="#1a1a1a" stroke-width="1.05"/>
<path d="M259.1 243.12L260.55 244.72L259.1 249.02L257.65 244.72Z" fill="#111"/>
<path d="M266.5 228.75V235.05" stroke="#1a1a1a" stroke-width="1.05"/>
<path d="M266.5 233.15L267.95 234.75L266.5 239.05L265.05 234.75Z" fill="#111"/>
<path d="M269.5 235.64V241.94" stroke="#1a1a1a" stroke-width="1.05"/>
<path d="M269.5 240.04L270.95 241.64L269.5 245.94L268.05 241.64Z" fill="#111"/>
<path d="M285.1 237.98V244.28" stroke="#1a1a1a" stroke-width="1.05"/>
<path d="M285.1 242.38L286.55 243.98L285.1 248.28L283.65 243.98Z" fill="#111"/>
<path d="M288.6 238.72V245.02" stroke="#1a1a1a" stroke-width="1.05"/>
<path d="M288.6 243.12L290.05 244.72L288.6 249.02L287.15 244.72Z" fill="#111"/>
<path d="M295.5 234.9V241.2" stroke="#1a1a1a" stroke-width="1.05"/>
<path d="M295.5 239.3L296.95 240.9L295.5 245.2L294.05 240.9Z" fill="#111"/>
<path d="M302.9 234.17V240.47" stroke="#1a1a1a" stroke-width="1.05"/>
<path d="M302.9 238.57L304.35 240.17L302.9 244.47L301.45 240.17Z" fill="#111"/>
<path d="M316.3 237.36V243.66" stroke="#1a1a1a" stroke-width="1.05"/>
<path d="M316.3 241.76L317.75 243.36L316.3 247.66L314.85 243.36Z" fill="#111"/>
<path d="M194.9 161.3V253.2H329.6" fill="none" stroke="#4a4a4a" stroke-width="1.1"/>
<path d="M193.5 253.2H194.9" stroke="#333" stroke-width="0.6"/>
<text x="192.5" y="254.01" font-size="3.7" font-weight="bold" stroke="#000" stroke-width="0.12" text-anchor="end">0</text>
<path d="M194 247.05H194.9" stroke="#333" stroke-width="0.6"/>
<path d="M193.5 240.9H194.9" stroke="#333" stroke-width="0.6"/>
<text x="192.5" y="241.71" font-size="3.7" font-weight="bold" stroke="#000" stroke-width="0.12" text-anchor="end">10</text>
<path d="M194 234.75H194.9" stroke="#333" stroke-width="0.6"/>
<path d="M193.5 228.6H194.9" stroke="#333" stroke-width="0.6"/>
<text x="192.5" y="229.41" font-size="3.7" font-weight="bold" stroke="#000" stroke-width="0.12" text-anchor="end">20</text>
<path d="M194 222.45H194.9" stroke="#333" stroke-width="0.6"/>
<path d="M193.5 216.3H194.9" stroke="#333" stroke-width="0.6"/>
<text x="192.5" y="217.11" font-size="3.7" font-weight="bold" stroke="#000" stroke-width="0.12" text-anchor="end">30</text>
<path d="M194 210.15H194.9" stroke="#333" stroke-width="0.6"/>
<path d="M193.5 204H194.9" stroke="#333" stroke-width="0.6"/>
<text x="192.5" y="204.81" font-size="3.7" font-weight="bold" stroke="#000" stroke-width="0.12" text-anchor="end">40</text>
<path d="M194 197.85H194.9" stroke="#333" stroke-width="0.6"/>
<path d="M193.5 191.7H194.9" stroke="#333" stroke-width="0.6"/>
<text x="192.5" y="192.51" font-size="3.7" font-weight="bold" stroke="#000" stroke-width="0.12" text-anchor="end">50</text>
<path d="M194 185.55H194.9" stroke="#333" stroke-width="0.6"/>
<path d="M193.5 179.4H194.9" stroke="#333" stroke-width="0.6"/>
<text x="192.5" y="180.21" font-size="3.7" font-weight="bold" stroke="#000" stroke-width="0.12" text-anchor="end">60</text>
<path d="M194 173.25H194.9" stroke="#333" stroke-width="0.6"/>
<path d="M193.5 167.1H194.9" stroke="#333" stroke-width="0.6"/>
<text x="192.5" y="167.91" font-size="3.7" font-weight="bold" stroke="#000" stroke-width="0.12" text-anchor="end">70</text>
<text x="196.2" y="262.2" font-size="3.9" font-weight="bold" stroke="#000" stroke-width="0.1" text-anchor="middle">1</text>
<text x="201.4" y="262.2" font-size="3.9" font-weight="bold" stroke="#000" stroke-width="0.1" text-anchor="middle">2</text>
<text x="206.6" y="262.2" font-size="3.9" font-weight="bold" stroke="#000" stroke-width="0.1" text-anchor="middle">3</text>
<text x="211.8" y="262.2" font-size="3.9" font-weight="bold" stroke="#000" stroke-width="0.1" text-anchor="middle">4</text>
<text x="217.9" y="260.8" font-size="3.315" font-weight="bold" text-anchor="middle" transform="rotate(-90 217.9 260.8)">5.1</text>
<text x="223.1" y="260.8" font-size="3.315" font-weight="bold" text-anchor="middle" transform="rotate(-90 223.1 260.8)">5.2</text>
<text x="227.4" y="262.2" font-size="3.9" font-weight="bold" stroke="#000" stroke-width="0.1" text-anchor="middle">6</text>
<text x="232.6" y="262.2" font-size="3.9" font-weight="bold" stroke="#000" stroke-width="0.1" text-anchor="middle">7</text>
<text x="237.8" y="262.2" font-size="3.9" font-weight="bold" stroke="#000" stroke-width="0.1" text-anchor="middle">8</text>
<text x="243" y="262.2" font-size="3.9" font-weight="bold" stroke="#000" stroke-width="0.1" text-anchor="middle">9</text>
<text x="248.2" y="262.2" font-size="3.9" font-weight="bold" stroke="#000" stroke-width="0.1" text-anchor="middle">10</text>
<text x="253.4" y="262.2" font-size="3.9" font-weight="bold" stroke="#000" stroke-width="0.1" text-anchor="middle">11</text>
<text x="258.6" y="262.2" font-size="3.9" font-weight="bold" stroke="#000" stroke-width="0.1" text-anchor="middle">12</text>
<text x="264.7" y="260.8" font-size="3.315" font-weight="bold" text-anchor="middle" transform="rotate(-90 264.7 260.8)">13.1</text>
<text x="269.9" y="260.8" font-size="3.315" font-weight="bold" text-anchor="middle" transform="rotate(-90 269.9 260.8)">13.2</text>
<text x="274.2" y="262.2" font-size="3.9" font-weight="bold" stroke="#000" stroke-width="0.1" text-anchor="middle">14</text>
<text x="279.4" y="262.2" font-size="3.9" font-weight="bold" stroke="#000" stroke-width="0.1" text-anchor="middle">15</text>
<text x="284.6" y="262.2" font-size="3.9" font-weight="bold" stroke="#000" stroke-width="0.1" text-anchor="middle">16</text>
<text x="289.8" y="262.2" font-size="3.9" font-weight="bold" stroke="#000" stroke-width="0.1" text-anchor="middle">17</text>
<text x="295" y="262.2" font-size="3.9" font-weight="bold" stroke="#000" stroke-width="0.1" text-anchor="middle">18</text>
<text x="300.2" y="262.2" font-size="3.9" font-weight="bold" stroke="#000" stroke-width="0.1" text-anchor="middle">19</text>
<text x="305.4" y="262.2" font-size="3.9" font-weight="bold" stroke="#000" stroke-width="0.1" text-anchor="middle">20</text>
<text x="310.6" y="262.2" font-size="3.9" font-weight="bold" stroke="#000" stroke-width="0.1" text-anchor="middle">21</text>
<text x="315.8" y="262.2" font-size="3.9" font-weight="bold" stroke="#000" stroke-width="0.1" text-anchor="middle">22</text>
<text x="321" y="262.2" font-size="3.9" font-weight="bold" stroke="#000" stroke-width="0.1" text-anchor="middle">23</text>
<text x="326.2" y="262.2" font-size="3.9" font-weight="bold" stroke="#000" stroke-width="0.1" text-anchor="middle">24</text>
<text x="247.5" y="153.6" font-size="9.3" font-weight="bold" stroke="#000" stroke-width="0.22">AC 2</text>
<text x="180.15" y="221" font-size="8" font-weight="bold" stroke="#000" stroke-width="0.15" text-anchor="middle" transform="rotate(-90 180.15 221)">% V&#946; family mRNA expression</text>
<text x="263.6" y="277" font-size="9.8" font-weight="bold" stroke="#000" stroke-width="0.22" text-anchor="middle">V&#946; families</text>
<path d="M379.4 161.1H514.5V258.3" fill="none" stroke="#8a8a8a" stroke-width="0.9"/>
<rect x="380.1" y="247.13" width="2.2" height="11.17" fill="#111"/>
<rect x="382.3" y="245.59" width="2.2" height="12.71" fill="#a8a8a8" stroke="#7a7a7a" stroke-width="0.5"/>
<rect x="385.3" y="237.37" width="2.2" height="20.93" fill="#111"/>
<rect x="387.5" y="247.9" width="2.2" height="10.4" fill="#a8a8a8" stroke="#7a7a7a" stroke-width="0.5"/>
<rect x="392.7" y="252.91" width="2.2" height="5.39" fill="#a8a8a8" stroke="#7a7a7a" stroke-width="0.5"/>
<rect x="397.9" y="252.91" width="2.2" height="5.39" fill="#a8a8a8" stroke="#7a7a7a" stroke-width="0.5"/>
<rect x="400.9" y="255.86" width="2.2" height="2.44" fill="#111"/>
<rect x="403.1" y="251.88" width="2.2" height="6.42" fill="#a8a8a8" stroke="#7a7a7a" stroke-width="0.5"/>
<rect x="408.3" y="253.93" width="2.2" height="4.37" fill="#a8a8a8" stroke="#7a7a7a" stroke-width="0.5"/>
<rect x="411.3" y="249.83" width="2.2" height="8.47" fill="#111"/>
<rect x="413.5" y="251.24" width="2.2" height="7.06" fill="#a8a8a8" stroke="#7a7a7a" stroke-width="0.5"/>
<rect x="416.5" y="240.2" width="2.2" height="18.1" fill="#111"/>
<rect x="418.7" y="247.13" width="2.2" height="11.17" fill="#a8a8a8" stroke="#7a7a7a" stroke-width="0.5"/>
<rect x="421.7" y="257.27" width="2.2" height="1.03" fill="#111"/>
<rect x="423.9" y="253.16" width="2.2" height="5.14" fill="#a8a8a8" stroke="#7a7a7a" stroke-width="0.5"/>
<rect x="426.9" y="253.93" width="2.2" height="4.37" fill="#111"/>
<rect x="429.1" y="250.85" width="2.2" height="7.45" fill="#a8a8a8" stroke="#7a7a7a" stroke-width="0.5"/>
<rect x="437.3" y="252.27" width="2.2" height="6.03" fill="#111"/>
<rect x="439.5" y="252.52" width="2.2" height="5.78" fill="#a8a8a8" stroke="#7a7a7a" stroke-width="0.5"/>
<rect x="444.7" y="255.09" width="2.2" height="3.21" fill="#a8a8a8" stroke="#7a7a7a" stroke-width="0.5"/>
<rect x="447.7" y="250.21" width="2.2" height="8.09" fill="#111"/>
<rect x="449.9" y="248.54" width="2.2" height="9.76" fill="#a8a8a8" stroke="#7a7a7a" stroke-width="0.5"/>
<rect x="452.9" y="248.54" width="2.2" height="9.76" fill="#111"/>
<rect x="455.1" y="252.52" width="2.2" height="5.78" fill="#a8a8a8" stroke="#7a7a7a" stroke-width="0.5"/>
<rect x="468.5" y="256.5" width="2.2" height="1.8" fill="#111"/>
<rect x="470.7" y="251.88" width="2.2" height="6.42" fill="#a8a8a8" stroke="#7a7a7a" stroke-width="0.5"/>
<rect x="475.9" y="257.53" width="2.2" height="0.77" fill="#a8a8a8" stroke="#7a7a7a" stroke-width="0.5"/>
<rect x="478.9" y="253.16" width="2.2" height="5.14" fill="#111"/>
<rect x="481.1" y="252.14" width="2.2" height="6.16" fill="#a8a8a8" stroke="#7a7a7a" stroke-width="0.5"/>
<rect x="484.1" y="242.76" width="2.2" height="15.54" fill="#111"/>
<rect x="486.3" y="254.83" width="2.2" height="3.47" fill="#a8a8a8" stroke="#7a7a7a" stroke-width="0.5"/>
<rect x="489.3" y="243.66" width="2.2" height="14.64" fill="#111"/>
<rect x="491.5" y="250.6" width="2.2" height="7.7" fill="#a8a8a8" stroke="#7a7a7a" stroke-width="0.5"/>
<rect x="496.7" y="257.53" width="2.2" height="0.77" fill="#a8a8a8" stroke="#7a7a7a" stroke-width="0.5"/>
<rect x="501.9" y="257.27" width="2.2" height="1.03" fill="#a8a8a8" stroke="#7a7a7a" stroke-width="0.5"/>
<path d="M379.7 231.56V237.86" stroke="#1a1a1a" stroke-width="1.05"/>
<path d="M379.7 235.96L381.15 237.56L379.7 241.86L378.25 237.56Z" fill="#111"/>
<path d="M469.6 242.22V248.52" stroke="#1a1a1a" stroke-width="1.05"/>
<path d="M469.6 246.62L471.05 248.22L469.6 252.52L468.15 248.22Z" fill="#111"/>
<path d="M490.4 230.79V237.09" stroke="#1a1a1a" stroke-width="1.05"/>
<path d="M490.4 235.19L491.85 236.79L490.4 241.09L488.95 236.79Z" fill="#111"/>
<path d="M379.4 161.1V258.3H514.5" fill="none" stroke="#4a4a4a" stroke-width="1.1"/>
<path d="M378 258.3H379.4" stroke="#333" stroke-width="0.6"/>
<text x="377" y="259.11" font-size="3.7" font-weight="bold" stroke="#000" stroke-width="0.12" text-anchor="end">0</text>
<path d="M378.5 251.88H379.4" stroke="#333" stroke-width="0.6"/>
<path d="M378 245.46H379.4" stroke="#333" stroke-width="0.6"/>
<text x="377" y="246.27" font-size="3.7" font-weight="bold" stroke="#000" stroke-width="0.12" text-anchor="end">10</text>
<path d="M378.5 239.04H379.4" stroke="#333" stroke-width="0.6"/>
<path d="M378 232.62H379.4" stroke="#333" stroke-width="0.6"/>
<text x="377" y="233.43" font-size="3.7" font-weight="bold" stroke="#000" stroke-width="0.12" text-anchor="end">20</text>
<path d="M378.5 226.2H379.4" stroke="#333" stroke-width="0.6"/>
<path d="M378 219.78H379.4" stroke="#333" stroke-width="0.6"/>
<text x="377" y="220.59" font-size="3.7" font-weight="bold" stroke="#000" stroke-width="0.12" text-anchor="end">30</text>
<path d="M378.5 213.36H379.4" stroke="#333" stroke-width="0.6"/>
<path d="M378 206.94H379.4" stroke="#333" stroke-width="0.6"/>
<text x="377" y="207.75" font-size="3.7" font-weight="bold" stroke="#000" stroke-width="0.12" text-anchor="end">40</text>
<path d="M378.5 200.52H379.4" stroke="#333" stroke-width="0.6"/>
<path d="M378 194.1H379.4" stroke="#333" stroke-width="0.6"/>
<text x="377" y="194.91" font-size="3.7" font-weight="bold" stroke="#000" stroke-width="0.12" text-anchor="end">50</text>
<path d="M378.5 187.68H379.4" stroke="#333" stroke-width="0.6"/>
<path d="M378 181.26H379.4" stroke="#333" stroke-width="0.6"/>
<text x="377" y="182.07" font-size="3.7" font-weight="bold" stroke="#000" stroke-width="0.12" text-anchor="end">60</text>
<path d="M378.5 174.84H379.4" stroke="#333" stroke-width="0.6"/>
<path d="M378 168.42H379.4" stroke="#333" stroke-width="0.6"/>
<text x="377" y="169.23" font-size="3.7" font-weight="bold" stroke="#000" stroke-width="0.12" text-anchor="end">70</text>
<text x="380.7" y="267.3" font-size="3.9" font-weight="bold" stroke="#000" stroke-width="0.1" text-anchor="middle">1</text>
<text x="385.9" y="267.3" font-size="3.9" font-weight="bold" stroke="#000" stroke-width="0.1" text-anchor="middle">2</text>
<text x="391.1" y="267.3" font-size="3.9" font-weight="bold" stroke="#000" stroke-width="0.1" text-anchor="middle">3</text>
<text x="396.3" y="267.3" font-size="3.9" font-weight="bold" stroke="#000" stroke-width="0.1" text-anchor="middle">4</text>
<text x="402.4" y="265.9" font-size="3.315" font-weight="bold" text-anchor="middle" transform="rotate(-90 402.4 265.9)">5.1</text>
<text x="407.6" y="265.9" font-size="3.315" font-weight="bold" text-anchor="middle" transform="rotate(-90 407.6 265.9)">5.2</text>
<text x="411.9" y="267.3" font-size="3.9" font-weight="bold" stroke="#000" stroke-width="0.1" text-anchor="middle">6</text>
<text x="417.1" y="267.3" font-size="3.9" font-weight="bold" stroke="#000" stroke-width="0.1" text-anchor="middle">7</text>
<text x="422.3" y="267.3" font-size="3.9" font-weight="bold" stroke="#000" stroke-width="0.1" text-anchor="middle">8</text>
<text x="427.5" y="267.3" font-size="3.9" font-weight="bold" stroke="#000" stroke-width="0.1" text-anchor="middle">9</text>
<text x="432.7" y="267.3" font-size="3.9" font-weight="bold" stroke="#000" stroke-width="0.1" text-anchor="middle">10</text>
<text x="437.9" y="267.3" font-size="3.9" font-weight="bold" stroke="#000" stroke-width="0.1" text-anchor="middle">11</text>
<text x="443.1" y="267.3" font-size="3.9" font-weight="bold" stroke="#000" stroke-width="0.1" text-anchor="middle">12</text>
<text x="449.2" y="265.9" font-size="3.315" font-weight="bold" text-anchor="middle" transform="rotate(-90 449.2 265.9)">13.1</text>
<text x="454.4" y="265.9" font-size="3.315" font-weight="bold" text-anchor="middle" transform="rotate(-90 454.4 265.9)">13.2</text>
<text x="458.7" y="267.3" font-size="3.9" font-weight="bold" stroke="#000" stroke-width="0.1" text-anchor="middle">14</text>
<text x="463.9" y="267.3" font-size="3.9" font-weight="bold" stroke="#000" stroke-width="0.1" text-anchor="middle">15</text>
<text x="469.1" y="267.3" font-size="3.9" font-weight="bold" stroke="#000" stroke-width="0.1" text-anchor="middle">16</text>
<text x="474.3" y="267.3" font-size="3.9" font-weight="bold" stroke="#000" stroke-width="0.1" text-anchor="middle">17</text>
<text x="479.5" y="267.3" font-size="3.9" font-weight="bold" stroke="#000" stroke-width="0.1" text-anchor="middle">18</text>
<text x="484.7" y="267.3" font-size="3.9" font-weight="bold" stroke="#000" stroke-width="0.1" text-anchor="middle">19</text>
<text x="489.9" y="267.3" font-size="3.9" font-weight="bold" stroke="#000" stroke-width="0.1" text-anchor="middle">20</text>
<text x="495.1" y="267.3" font-size="3.9" font-weight="bold" stroke="#000" stroke-width="0.1" text-anchor="middle">21</text>
<text x="500.3" y="267.3" font-size="3.9" font-weight="bold" stroke="#000" stroke-width="0.1" text-anchor="middle">22</text>
<text x="505.5" y="267.3" font-size="3.9" font-weight="bold" stroke="#000" stroke-width="0.1" text-anchor="middle">23</text>
<text x="510.7" y="267.3" font-size="3.9" font-weight="bold" stroke="#000" stroke-width="0.1" text-anchor="middle">24</text>
<text x="424" y="151.9" font-size="9.3" font-weight="bold" stroke="#000" stroke-width="0.22">Normal-2</text>
<text x="364.35" y="211.7" font-size="8" font-weight="bold" stroke="#000" stroke-width="0.15" text-anchor="middle" transform="rotate(-90 364.35 211.7)">% V&#946; family mRNA expression</text>
<path d="M25.4 308.4H161V403.5" fill="none" stroke="#8a8a8a" stroke-width="0.9"/>
<rect x="26.1" y="398.1" width="2.2" height="5.4" fill="#111"/>
<rect x="28.3" y="396.43" width="2.2" height="7.07" fill="#a8a8a8" stroke="#7a7a7a" stroke-width="0.5"/>
<rect x="31.3" y="394.38" width="2.2" height="9.12" fill="#111"/>
<rect x="33.5" y="394.38" width="2.2" height="9.12" fill="#a8a8a8" stroke="#7a7a7a" stroke-width="0.5"/>
<rect x="43.9" y="396.82" width="2.2" height="6.68" fill="#a8a8a8" stroke="#7a7a7a" stroke-width="0.5"/>
<rect x="46.9" y="399" width="2.2" height="4.5" fill="#111"/>
<rect x="49.1" y="397.07" width="2.2" height="6.42" fill="#a8a8a8" stroke="#7a7a7a" stroke-width="0.5"/>
<rect x="57.3" y="390.01" width="2.2" height="13.49" fill="#111"/>
<rect x="59.5" y="395.02" width="2.2" height="8.48" fill="#a8a8a8" stroke="#7a7a7a" stroke-width="0.5"/>
<rect x="62.5" y="373.94" width="2.2" height="29.55" fill="#111"/>
<rect x="64.7" y="395.02" width="2.2" height="8.48" fill="#a8a8a8" stroke="#7a7a7a" stroke-width="0.5"/>
<rect x="69.9" y="398.62" width="2.2" height="4.88" fill="#a8a8a8" stroke="#7a7a7a" stroke-width="0.5"/>
<rect x="72.9" y="396.43" width="2.2" height="7.07" fill="#111"/>
<rect x="75.1" y="394.5" width="2.2" height="8.99" fill="#a8a8a8" stroke="#7a7a7a" stroke-width="0.5"/>
<rect x="80.3" y="402.21" width="2.2" height="1.28" fill="#a8a8a8" stroke="#7a7a7a" stroke-width="0.5"/>
<rect x="83.3" y="397.97" width="2.2" height="5.53" fill="#111"/>
<rect x="85.5" y="398.36" width="2.2" height="5.14" fill="#a8a8a8" stroke="#7a7a7a" stroke-width="0.5"/>
<rect x="88.5" y="399.13" width="2.2" height="4.37" fill="#111"/>
<rect x="90.7" y="397.2" width="2.2" height="6.3" fill="#a8a8a8" stroke="#7a7a7a" stroke-width="0.5"/>
<rect x="93.7" y="395.15" width="2.2" height="8.35" fill="#111"/>
<rect x="95.9" y="395.4" width="2.2" height="8.1" fill="#a8a8a8" stroke="#7a7a7a" stroke-width="0.5"/>
<rect x="98.9" y="389.37" width="2.2" height="14.13" fill="#111"/>
<rect x="101.1" y="396.3" width="2.2" height="7.2" fill="#a8a8a8" stroke="#7a7a7a" stroke-width="0.5"/>
<rect x="116.7" y="395.4" width="2.2" height="8.1" fill="#a8a8a8" stroke="#7a7a7a" stroke-width="0.5"/>
<rect x="121.9" y="400.03" width="2.2" height="3.47" fill="#a8a8a8" stroke="#7a7a7a" stroke-width="0.5"/>
<rect x="127.1" y="394.63" width="2.2" height="8.87" fill="#a8a8a8" stroke="#7a7a7a" stroke-width="0.5"/>
<rect x="130.1" y="382.55" width="2.2" height="20.95" fill="#111"/>
<rect x="132.3" y="400.42" width="2.2" height="3.08" fill="#a8a8a8" stroke="#7a7a7a" stroke-width="0.5"/>
<rect x="137.5" y="391.16" width="2.2" height="12.34" fill="#a8a8a8" stroke="#7a7a7a" stroke-width="0.5"/>
<path d="M28.1 382.02V388.32" stroke="#1a1a1a" stroke-width="1.05"/>
<path d="M28.1 386.42L29.55 388.02L28.1 392.32L26.65 388.02Z" fill="#111"/>
<path d="M48.3 385.36V391.66" stroke="#1a1a1a" stroke-width="1.05"/>
<path d="M48.3 389.76L49.75 391.36L48.3 395.66L46.85 391.36Z" fill="#111"/>
<path d="M65.8 361.85V368.15" stroke="#1a1a1a" stroke-width="1.05"/>
<path d="M65.8 366.25L67.25 367.85L65.8 372.15L64.35 367.85Z" fill="#111"/>
<path d="M81.6 388.57V394.87" stroke="#1a1a1a" stroke-width="1.05"/>
<path d="M81.6 392.97L83.05 394.57L81.6 398.87L80.15 394.57Z" fill="#111"/>
<path d="M85.1 385.1V391.4" stroke="#1a1a1a" stroke-width="1.05"/>
<path d="M85.1 389.5L86.55 391.1L85.1 395.4L83.65 391.1Z" fill="#111"/>
<path d="M88.3 385.1V391.4" stroke="#1a1a1a" stroke-width="1.05"/>
<path d="M88.3 389.5L89.75 391.1L88.3 395.4L86.85 391.1Z" fill="#111"/>
<path d="M91.7 385.1V391.4" stroke="#1a1a1a" stroke-width="1.05"/>
<path d="M91.7 389.5L93.15 391.1L91.7 395.4L90.25 391.1Z" fill="#111"/>
<path d="M98.4 378.55V384.85" stroke="#1a1a1a" stroke-width="1.05"/>
<path d="M98.4 382.95L99.85 384.55L98.4 388.85L96.95 384.55Z" fill="#111"/>
<path d="M131.2 370.84V377.14" stroke="#1a1a1a" stroke-width="1.05"/>
<path d="M131.2 375.24L132.65 376.84L131.2 381.14L129.75 376.84Z" fill="#111"/>
<path d="M25.4 308.4V403.5H161" fill="none" stroke="#4a4a4a" stroke-width="1.1"/>
<path d="M24 403.5H25.4" stroke="#333" stroke-width="0.6"/>
<text x="23" y="404.56" font-size="4.8" font-weight="bold" stroke="#000" stroke-width="0.12" text-anchor="end">0</text>
<path d="M24.5 397.07H25.4" stroke="#333" stroke-width="0.6"/>
<path d="M24 390.65H25.4" stroke="#333" stroke-width="0.6"/>
<text x="23" y="391.71" font-size="4.8" font-weight="bold" stroke="#000" stroke-width="0.12" text-anchor="end">10</text>
<path d="M24.5 384.23H25.4" stroke="#333" stroke-width="0.6"/>
<path d="M24 377.8H25.4" stroke="#333" stroke-width="0.6"/>
<text x="23" y="378.86" font-size="4.8" font-weight="bold" stroke="#000" stroke-width="0.12" text-anchor="end">20</text>
<path d="M24.5 371.38H25.4" stroke="#333" stroke-width="0.6"/>
<path d="M24 364.95H25.4" stroke="#333" stroke-width="0.6"/>
<text x="23" y="366.01" font-size="4.8" font-weight="bold" stroke="#000" stroke-width="0.12" text-anchor="end">30</text>
<path d="M24.5 358.52H25.4" stroke="#333" stroke-width="0.6"/>
<path d="M24 352.1H25.4" stroke="#333" stroke-width="0.6"/>
<text x="23" y="353.16" font-size="4.8" font-weight="bold" stroke="#000" stroke-width="0.12" text-anchor="end">40</text>
<path d="M24.5 345.68H25.4" stroke="#333" stroke-width="0.6"/>
<path d="M24 339.25H25.4" stroke="#333" stroke-width="0.6"/>
<text x="23" y="340.31" font-size="4.8" font-weight="bold" stroke="#000" stroke-width="0.12" text-anchor="end">50</text>
<path d="M24.5 332.82H25.4" stroke="#333" stroke-width="0.6"/>
<path d="M24 326.4H25.4" stroke="#333" stroke-width="0.6"/>
<text x="23" y="327.46" font-size="4.8" font-weight="bold" stroke="#000" stroke-width="0.12" text-anchor="end">60</text>
<path d="M24.5 319.98H25.4" stroke="#333" stroke-width="0.6"/>
<path d="M24 313.55H25.4" stroke="#333" stroke-width="0.6"/>
<text x="23" y="314.61" font-size="4.8" font-weight="bold" stroke="#000" stroke-width="0.12" text-anchor="end">70</text>
<text x="26.7" y="412.5" font-size="3.9" font-weight="bold" stroke="#000" stroke-width="0.1" text-anchor="middle">1</text>
<text x="31.9" y="412.5" font-size="3.9" font-weight="bold" stroke="#000" stroke-width="0.1" text-anchor="middle">2</text>
<text x="37.1" y="412.5" font-size="3.9" font-weight="bold" stroke="#000" stroke-width="0.1" text-anchor="middle">3</text>
<text x="42.3" y="412.5" font-size="3.9" font-weight="bold" stroke="#000" stroke-width="0.1" text-anchor="middle">4</text>
<text x="48.4" y="411.1" font-size="3.315" font-weight="bold" text-anchor="middle" transform="rotate(-90 48.4 411.1)">5.1</text>
<text x="53.6" y="411.1" font-size="3.315" font-weight="bold" text-anchor="middle" transform="rotate(-90 53.6 411.1)">5.2</text>
<text x="57.9" y="412.5" font-size="3.9" font-weight="bold" stroke="#000" stroke-width="0.1" text-anchor="middle">6</text>
<text x="63.1" y="412.5" font-size="3.9" font-weight="bold" stroke="#000" stroke-width="0.1" text-anchor="middle">7</text>
<text x="68.3" y="412.5" font-size="3.9" font-weight="bold" stroke="#000" stroke-width="0.1" text-anchor="middle">8</text>
<text x="73.5" y="412.5" font-size="3.9" font-weight="bold" stroke="#000" stroke-width="0.1" text-anchor="middle">9</text>
<text x="78.7" y="412.5" font-size="3.9" font-weight="bold" stroke="#000" stroke-width="0.1" text-anchor="middle">10</text>
<text x="83.9" y="412.5" font-size="3.9" font-weight="bold" stroke="#000" stroke-width="0.1" text-anchor="middle">11</text>
<text x="89.1" y="412.5" font-size="3.9" font-weight="bold" stroke="#000" stroke-width="0.1" text-anchor="middle">12</text>
<text x="95.2" y="411.1" font-size="3.315" font-weight="bold" text-anchor="middle" transform="rotate(-90 95.2 411.1)">13.1</text>
<text x="100.4" y="411.1" font-size="3.315" font-weight="bold" text-anchor="middle" transform="rotate(-90 100.4 411.1)">13.2</text>
<text x="104.7" y="412.5" font-size="3.9" font-weight="bold" stroke="#000" stroke-width="0.1" text-anchor="middle">14</text>
<text x="109.9" y="412.5" font-size="3.9" font-weight="bold" stroke="#000" stroke-width="0.1" text-anchor="middle">15</text>
<text x="115.1" y="412.5" font-size="3.9" font-weight="bold" stroke="#000" stroke-width="0.1" text-anchor="middle">16</text>
<text x="120.3" y="412.5" font-size="3.9" font-weight="bold" stroke="#000" stroke-width="0.1" text-anchor="middle">17</text>
<text x="125.5" y="412.5" font-size="3.9" font-weight="bold" stroke="#000" stroke-width="0.1" text-anchor="middle">18</text>
<text x="130.7" y="412.5" font-size="3.9" font-weight="bold" stroke="#000" stroke-width="0.1" text-anchor="middle">19</text>
<text x="135.9" y="412.5" font-size="3.9" font-weight="bold" stroke="#000" stroke-width="0.1" text-anchor="middle">20</text>
<text x="141.1" y="412.5" font-size="3.9" font-weight="bold" stroke="#000" stroke-width="0.1" text-anchor="middle">21</text>
<text x="146.3" y="412.5" font-size="3.9" font-weight="bold" stroke="#000" stroke-width="0.1" text-anchor="middle">22</text>
<text x="151.5" y="412.5" font-size="3.9" font-weight="bold" stroke="#000" stroke-width="0.1" text-anchor="middle">23</text>
<text x="156.7" y="412.5" font-size="3.9" font-weight="bold" stroke="#000" stroke-width="0.1" text-anchor="middle">24</text>
<text x="74" y="298.6" font-size="9.3" font-weight="bold" stroke="#000" stroke-width="0.22">HAM 3</text>
<text x="8.5" y="367.5" font-size="8" font-weight="bold" stroke="#000" stroke-width="0.15" text-anchor="middle" transform="rotate(-90 8.5 367.5)">% V&#946; family mRNA expression</text>
<text x="94" y="426" font-size="9.8" font-weight="bold" stroke="#000" stroke-width="0.22" text-anchor="middle">V&#946; families</text>
<path d="M195.8 308.4H331V398.9" fill="none" stroke="#8a8a8a" stroke-width="0.9"/>
<rect x="198.7" y="381.19" width="2.2" height="17.71" fill="#a8a8a8" stroke="#7a7a7a" stroke-width="0.5"/>
<rect x="201.7" y="384.75" width="2.2" height="14.14" fill="#111"/>
<rect x="203.9" y="394.23" width="2.2" height="4.67" fill="#a8a8a8" stroke="#7a7a7a" stroke-width="0.5"/>
<rect x="206.9" y="382.79" width="2.2" height="16.11" fill="#111"/>
<rect x="214.3" y="394.23" width="2.2" height="4.67" fill="#a8a8a8" stroke="#7a7a7a" stroke-width="0.5"/>
<rect x="219.5" y="394.59" width="2.2" height="4.3" fill="#a8a8a8" stroke="#7a7a7a" stroke-width="0.5"/>
<rect x="224.7" y="395.58" width="2.2" height="3.32" fill="#a8a8a8" stroke="#7a7a7a" stroke-width="0.5"/>
<rect x="227.7" y="390.17" width="2.2" height="8.73" fill="#111"/>
<rect x="229.9" y="394.23" width="2.2" height="4.67" fill="#a8a8a8" stroke="#7a7a7a" stroke-width="0.5"/>
<rect x="232.9" y="379.34" width="2.2" height="19.56" fill="#111"/>
<rect x="235.1" y="392.87" width="2.2" height="6.03" fill="#a8a8a8" stroke="#7a7a7a" stroke-width="0.5"/>
<rect x="240.3" y="392.87" width="2.2" height="6.03" fill="#a8a8a8" stroke="#7a7a7a" stroke-width="0.5"/>
<rect x="245.5" y="395.09" width="2.2" height="3.81" fill="#a8a8a8" stroke="#7a7a7a" stroke-width="0.5"/>
<rect x="250.7" y="397.55" width="2.2" height="1.35" fill="#a8a8a8" stroke="#7a7a7a" stroke-width="0.5"/>
<rect x="255.9" y="391.15" width="2.2" height="7.75" fill="#a8a8a8" stroke="#7a7a7a" stroke-width="0.5"/>
<rect x="261.1" y="394.72" width="2.2" height="4.18" fill="#a8a8a8" stroke="#7a7a7a" stroke-width="0.5"/>
<rect x="266.3" y="392.26" width="2.2" height="6.64" fill="#a8a8a8" stroke="#7a7a7a" stroke-width="0.5"/>
<rect x="269.3" y="389.92" width="2.2" height="8.98" fill="#111"/>
<rect x="271.5" y="393.36" width="2.2" height="5.54" fill="#a8a8a8" stroke="#7a7a7a" stroke-width="0.5"/>
<rect x="287.1" y="388.57" width="2.2" height="10.33" fill="#a8a8a8" stroke="#7a7a7a" stroke-width="0.5"/>
<rect x="292.3" y="395.82" width="2.2" height="3.08" fill="#a8a8a8" stroke="#7a7a7a" stroke-width="0.5"/>
<rect x="295.3" y="383.65" width="2.2" height="15.25" fill="#111"/>
<rect x="297.5" y="393.36" width="2.2" height="5.54" fill="#a8a8a8" stroke="#7a7a7a" stroke-width="0.5"/>
<rect x="300.5" y="385" width="2.2" height="13.9" fill="#111"/>
<rect x="302.7" y="395.46" width="2.2" height="3.44" fill="#a8a8a8" stroke="#7a7a7a" stroke-width="0.5"/>
<rect x="305.7" y="372.82" width="2.2" height="26.08" fill="#111"/>
<rect x="307.9" y="390.29" width="2.2" height="8.61" fill="#a8a8a8" stroke="#7a7a7a" stroke-width="0.5"/>
<rect x="313.1" y="396.07" width="2.2" height="2.83" fill="#a8a8a8" stroke="#7a7a7a" stroke-width="0.5"/>
<rect x="318.3" y="397.79" width="2.2" height="1.11" fill="#a8a8a8" stroke="#7a7a7a" stroke-width="0.5"/>
<rect x="328.7" y="398.04" width="2.2" height="0.86" fill="#a8a8a8" stroke="#7a7a7a" stroke-width="0.5"/>
<path d="M202.8 372.49V378.79" stroke="#1a1a1a" stroke-width="1.05"/>
<path d="M202.8 376.89L204.25 378.49L202.8 382.79L201.35 378.49Z" fill="#111"/>
<path d="M210.2 382.57V388.87" stroke="#1a1a1a" stroke-width="1.05"/>
<path d="M210.2 386.97L211.65 388.57L210.2 392.87L208.75 388.57Z" fill="#111"/>
<path d="M231 379.13V385.43" stroke="#1a1a1a" stroke-width="1.05"/>
<path d="M231 383.53L232.45 385.13L231 389.43L229.55 385.13Z" fill="#111"/>
<path d="M246.6 382.57V388.87" stroke="#1a1a1a" stroke-width="1.05"/>
<path d="M246.6 386.97L248.05 388.57L246.6 392.87L245.15 388.57Z" fill="#111"/>
<path d="M251.8 385.28V391.58" stroke="#1a1a1a" stroke-width="1.05"/>
<path d="M251.8 389.68L253.25 391.28L251.8 395.58L250.35 391.28Z" fill="#111"/>
<path d="M262.2 382.33V388.63" stroke="#1a1a1a" stroke-width="1.05"/>
<path d="M262.2 386.73L263.65 388.33L262.2 392.63L260.75 388.33Z" fill="#111"/>
<path d="M266.3 378.88V385.18" stroke="#1a1a1a" stroke-width="1.05"/>
<path d="M266.3 383.28L267.75 384.88L266.3 389.18L264.85 384.88Z" fill="#111"/>
<path d="M270.4 376.18V382.48" stroke="#1a1a1a" stroke-width="1.05"/>
<path d="M270.4 380.58L271.85 382.18L270.4 386.48L268.95 382.18Z" fill="#111"/>
<path d="M273.6 379.62V385.92" stroke="#1a1a1a" stroke-width="1.05"/>
<path d="M273.6 384.02L275.05 385.62L273.6 389.92L272.15 385.62Z" fill="#111"/>
<path d="M296.4 372.61V378.91" stroke="#1a1a1a" stroke-width="1.05"/>
<path d="M296.4 377.01L297.85 378.61L296.4 382.91L294.95 378.61Z" fill="#111"/>
<path d="M300 372.61V378.91" stroke="#1a1a1a" stroke-width="1.05"/>
<path d="M300 377.01L301.45 378.61L300 382.91L298.55 378.61Z" fill="#111"/>
<path d="M306.8 359.57V365.87" stroke="#1a1a1a" stroke-width="1.05"/>
<path d="M306.8 363.97L308.25 365.57L306.8 369.87L305.35 365.57Z" fill="#111"/>
<path d="M330 385.77V392.07" stroke="#1a1a1a" stroke-width="1.05"/>
<path d="M330 390.17L331.45 391.77L330 396.07L328.55 391.77Z" fill="#111"/>
<path d="M195.8 308.4V398.9H331" fill="none" stroke="#4a4a4a" stroke-width="1.1"/>
<path d="M194.4 398.9H195.8" stroke="#333" stroke-width="0.6"/>
<text x="193.4" y="399.71" font-size="3.7" font-weight="bold" stroke="#000" stroke-width="0.12" text-anchor="end">0</text>
<path d="M194.9 392.75H195.8" stroke="#333" stroke-width="0.6"/>
<path d="M194.4 386.6H195.8" stroke="#333" stroke-width="0.6"/>
<text x="193.4" y="387.41" font-size="3.7" font-weight="bold" stroke="#000" stroke-width="0.12" text-anchor="end">10</text>
<path d="M194.9 380.45H195.8" stroke="#333" stroke-width="0.6"/>
<path d="M194.4 374.3H195.8" stroke="#333" stroke-width="0.6"/>
<text x="193.4" y="375.11" font-size="3.7" font-weight="bold" stroke="#000" stroke-width="0.12" text-anchor="end">20</text>
<path d="M194.9 368.15H195.8" stroke="#333" stroke-width="0.6"/>
<path d="M194.4 362H195.8" stroke="#333" stroke-width="0.6"/>
<text x="193.4" y="362.81" font-size="3.7" font-weight="bold" stroke="#000" stroke-width="0.12" text-anchor="end">30</text>
<path d="M194.9 355.85H195.8" stroke="#333" stroke-width="0.6"/>
<path d="M194.4 349.7H195.8" stroke="#333" stroke-width="0.6"/>
<text x="193.4" y="350.51" font-size="3.7" font-weight="bold" stroke="#000" stroke-width="0.12" text-anchor="end">40</text>
<path d="M194.9 343.55H195.8" stroke="#333" stroke-width="0.6"/>
<path d="M194.4 337.4H195.8" stroke="#333" stroke-width="0.6"/>
<text x="193.4" y="338.21" font-size="3.7" font-weight="bold" stroke="#000" stroke-width="0.12" text-anchor="end">50</text>
<path d="M194.9 331.25H195.8" stroke="#333" stroke-width="0.6"/>
<path d="M194.4 325.1H195.8" stroke="#333" stroke-width="0.6"/>
<text x="193.4" y="325.91" font-size="3.7" font-weight="bold" stroke="#000" stroke-width="0.12" text-anchor="end">60</text>
<path d="M194.9 318.95H195.8" stroke="#333" stroke-width="0.6"/>
<path d="M194.4 312.8H195.8" stroke="#333" stroke-width="0.6"/>
<text x="193.4" y="313.61" font-size="3.7" font-weight="bold" stroke="#000" stroke-width="0.12" text-anchor="end">70</text>
<text x="197.1" y="407.9" font-size="3.9" font-weight="bold" stroke="#000" stroke-width="0.1" text-anchor="middle">1</text>
<text x="202.3" y="407.9" font-size="3.9" font-weight="bold" stroke="#000" stroke-width="0.1" text-anchor="middle">2</text>
<text x="207.5" y="407.9" font-size="3.9" font-weight="bold" stroke="#000" stroke-width="0.1" text-anchor="middle">3</text>
<text x="212.7" y="407.9" font-size="3.9" font-weight="bold" stroke="#000" stroke-width="0.1" text-anchor="middle">4</text>
<text x="218.8" y="406.5" font-size="3.315" font-weight="bold" text-anchor="middle" transform="rotate(-90 218.8 406.5)">5.1</text>
<text x="224" y="406.5" font-size="3.315" font-weight="bold" text-anchor="middle" transform="rotate(-90 224 406.5)">5.2</text>
<text x="228.3" y="407.9" font-size="3.9" font-weight="bold" stroke="#000" stroke-width="0.1" text-anchor="middle">6</text>
<text x="233.5" y="407.9" font-size="3.9" font-weight="bold" stroke="#000" stroke-width="0.1" text-anchor="middle">7</text>
<text x="238.7" y="407.9" font-size="3.9" font-weight="bold" stroke="#000" stroke-width="0.1" text-anchor="middle">8</text>
<text x="243.9" y="407.9" font-size="3.9" font-weight="bold" stroke="#000" stroke-width="0.1" text-anchor="middle">9</text>
<text x="249.1" y="407.9" font-size="3.9" font-weight="bold" stroke="#000" stroke-width="0.1" text-anchor="middle">10</text>
<text x="254.3" y="407.9" font-size="3.9" font-weight="bold" stroke="#000" stroke-width="0.1" text-anchor="middle">11</text>
<text x="259.5" y="407.9" font-size="3.9" font-weight="bold" stroke="#000" stroke-width="0.1" text-anchor="middle">12</text>
<text x="265.6" y="406.5" font-size="3.315" font-weight="bold" text-anchor="middle" transform="rotate(-90 265.6 406.5)">13.1</text>
<text x="270.8" y="406.5" font-size="3.315" font-weight="bold" text-anchor="middle" transform="rotate(-90 270.8 406.5)">13.2</text>
<text x="275.1" y="407.9" font-size="3.9" font-weight="bold" stroke="#000" stroke-width="0.1" text-anchor="middle">14</text>
<text x="280.3" y="407.9" font-size="3.9" font-weight="bold" stroke="#000" stroke-width="0.1" text-anchor="middle">15</text>
<text x="285.5" y="407.9" font-size="3.9" font-weight="bold" stroke="#000" stroke-width="0.1" text-anchor="middle">16</text>
<text x="290.7" y="407.9" font-size="3.9" font-weight="bold" stroke="#000" stroke-width="0.1" text-anchor="middle">17</text>
<text x="295.9" y="407.9" font-size="3.9" font-weight="bold" stroke="#000" stroke-width="0.1" text-anchor="middle">18</text>
<text x="301.1" y="407.9" font-size="3.9" font-weight="bold" stroke="#000" stroke-width="0.1" text-anchor="middle">19</text>
<text x="306.3" y="407.9" font-size="3.9" font-weight="bold" stroke="#000" stroke-width="0.1" text-anchor="middle">20</text>
<text x="311.5" y="407.9" font-size="3.9" font-weight="bold" stroke="#000" stroke-width="0.1" text-anchor="middle">21</text>
<text x="316.7" y="407.9" font-size="3.9" font-weight="bold" stroke="#000" stroke-width="0.1" text-anchor="middle">22</text>
<text x="321.9" y="407.9" font-size="3.9" font-weight="bold" stroke="#000" stroke-width="0.1" text-anchor="middle">23</text>
<text x="327.1" y="407.9" font-size="3.9" font-weight="bold" stroke="#000" stroke-width="0.1" text-anchor="middle">24</text>
<text x="246.8" y="302.9" font-size="9.3" font-weight="bold" stroke="#000" stroke-width="0.22">AC 3</text>
<text x="180.25" y="368.8" font-size="8" font-weight="bold" stroke="#000" stroke-width="0.15" text-anchor="middle" transform="rotate(-90 180.25 368.8)">% V&#946; family mRNA expression</text>
<text x="260.5" y="426.5" font-size="9.8" font-weight="bold" stroke="#000" stroke-width="0.22" text-anchor="middle">V&#946; families</text>
<path d="M379.2 311.2H514.3V406.2" fill="none" stroke="#8a8a8a" stroke-width="0.9"/>
<rect x="379.9" y="396.34" width="2.2" height="9.86" fill="#111"/>
<rect x="382.1" y="396.34" width="2.2" height="9.86" fill="#a8a8a8" stroke="#7a7a7a" stroke-width="0.5"/>
<rect x="385.1" y="390.84" width="2.2" height="15.36" fill="#111"/>
<rect x="387.3" y="399.42" width="2.2" height="6.78" fill="#a8a8a8" stroke="#7a7a7a" stroke-width="0.5"/>
<rect x="390.3" y="404.41" width="2.2" height="1.79" fill="#111"/>
<rect x="392.5" y="404.41" width="2.2" height="1.79" fill="#a8a8a8" stroke="#7a7a7a" stroke-width="0.5"/>
<rect x="395.5" y="404.28" width="2.2" height="1.92" fill="#111"/>
<rect x="402.9" y="402.36" width="2.2" height="3.84" fill="#a8a8a8" stroke="#7a7a7a" stroke-width="0.5"/>
<rect x="408.1" y="401.34" width="2.2" height="4.86" fill="#a8a8a8" stroke="#7a7a7a" stroke-width="0.5"/>
<rect x="411.1" y="392.25" width="2.2" height="13.95" fill="#111"/>
<rect x="413.3" y="399.03" width="2.2" height="7.17" fill="#a8a8a8" stroke="#7a7a7a" stroke-width="0.5"/>
<rect x="416.3" y="389.18" width="2.2" height="17.02" fill="#111"/>
<rect x="418.5" y="399.93" width="2.2" height="6.27" fill="#a8a8a8" stroke="#7a7a7a" stroke-width="0.5"/>
<rect x="423.7" y="402.36" width="2.2" height="3.84" fill="#a8a8a8" stroke="#7a7a7a" stroke-width="0.5"/>
<rect x="426.7" y="401.34" width="2.2" height="4.86" fill="#111"/>
<rect x="428.9" y="402.62" width="2.2" height="3.58" fill="#a8a8a8" stroke="#7a7a7a" stroke-width="0.5"/>
<rect x="437.1" y="403.77" width="2.2" height="2.43" fill="#111"/>
<rect x="439.3" y="402.36" width="2.2" height="3.84" fill="#a8a8a8" stroke="#7a7a7a" stroke-width="0.5"/>
<rect x="444.5" y="403.38" width="2.2" height="2.82" fill="#a8a8a8" stroke="#7a7a7a" stroke-width="0.5"/>
<rect x="447.5" y="397.37" width="2.2" height="8.83" fill="#111"/>
<rect x="449.7" y="395.32" width="2.2" height="10.88" fill="#a8a8a8" stroke="#7a7a7a" stroke-width="0.5"/>
<rect x="452.7" y="395.32" width="2.2" height="10.88" fill="#111"/>
<rect x="454.9" y="397.37" width="2.2" height="8.83" fill="#a8a8a8" stroke="#7a7a7a" stroke-width="0.5"/>
<rect x="468.3" y="403" width="2.2" height="3.2" fill="#111"/>
<rect x="470.5" y="392.25" width="2.2" height="13.95" fill="#a8a8a8" stroke="#7a7a7a" stroke-width="0.5"/>
<rect x="475.7" y="404.02" width="2.2" height="2.18" fill="#a8a8a8" stroke="#7a7a7a" stroke-width="0.5"/>
<rect x="480.9" y="397.11" width="2.2" height="9.09" fill="#a8a8a8" stroke="#7a7a7a" stroke-width="0.5"/>
<rect x="483.9" y="398.39" width="2.2" height="7.81" fill="#111"/>
<rect x="486.1" y="403.38" width="2.2" height="2.82" fill="#a8a8a8" stroke="#7a7a7a" stroke-width="0.5"/>
<rect x="489.1" y="380.22" width="2.2" height="25.98" fill="#111"/>
<rect x="491.3" y="397.37" width="2.2" height="8.83" fill="#a8a8a8" stroke="#7a7a7a" stroke-width="0.5"/>
<rect x="496.5" y="405.3" width="2.2" height="0.9" fill="#a8a8a8" stroke="#7a7a7a" stroke-width="0.5"/>
<rect x="501.7" y="401.21" width="2.2" height="4.99" fill="#a8a8a8" stroke="#7a7a7a" stroke-width="0.5"/>
<rect x="512.1" y="405.3" width="2.2" height="0.9" fill="#a8a8a8" stroke="#7a7a7a" stroke-width="0.5"/>
<path d="M396.6 392.7V399" stroke="#1a1a1a" stroke-width="1.05"/>
<path d="M396.6 397.1L398.05 398.7L396.6 403L395.15 398.7Z" fill="#111"/>
<path d="M399.5 392.06V398.36" stroke="#1a1a1a" stroke-width="1.05"/>
<path d="M399.5 396.46L400.95 398.06L399.5 402.36L398.05 398.06Z" fill="#111"/>
<path d="M424.8 391.42V397.72" stroke="#1a1a1a" stroke-width="1.05"/>
<path d="M424.8 395.82L426.25 397.42L424.8 401.72L423.35 397.42Z" fill="#111"/>
<path d="M427.8 388.73V395.03" stroke="#1a1a1a" stroke-width="1.05"/>
<path d="M427.8 393.13L429.25 394.73L427.8 399.03L426.35 394.73Z" fill="#111"/>
<path d="M438.2 391.42V397.72" stroke="#1a1a1a" stroke-width="1.05"/>
<path d="M438.2 395.82L439.65 397.42L438.2 401.72L436.75 397.42Z" fill="#111"/>
<path d="M453.8 385.02V391.32" stroke="#1a1a1a" stroke-width="1.05"/>
<path d="M453.8 389.42L455.25 391.02L453.8 395.32L452.35 391.02Z" fill="#111"/>
<path d="M456 382.2V388.5" stroke="#1a1a1a" stroke-width="1.05"/>
<path d="M456 386.6L457.45 388.2L456 392.5L454.55 388.2Z" fill="#111"/>
<path d="M379.2 311.2V406.2H514.3" fill="none" stroke="#4a4a4a" stroke-width="1.1"/>
<path d="M377.8 406.2H379.2" stroke="#333" stroke-width="0.6"/>
<text x="376.8" y="407.01" font-size="3.7" font-weight="bold" stroke="#000" stroke-width="0.12" text-anchor="end">0</text>
<path d="M378.3 399.8H379.2" stroke="#333" stroke-width="0.6"/>
<path d="M377.8 393.4H379.2" stroke="#333" stroke-width="0.6"/>
<text x="376.8" y="394.21" font-size="3.7" font-weight="bold" stroke="#000" stroke-width="0.12" text-anchor="end">10</text>
<path d="M378.3 387H379.2" stroke="#333" stroke-width="0.6"/>
<path d="M377.8 380.6H379.2" stroke="#333" stroke-width="0.6"/>
<text x="376.8" y="381.41" font-size="3.7" font-weight="bold" stroke="#000" stroke-width="0.12" text-anchor="end">20</text>
<path d="M378.3 374.2H379.2" stroke="#333" stroke-width="0.6"/>
<path d="M377.8 367.8H379.2" stroke="#333" stroke-width="0.6"/>
<text x="376.8" y="368.61" font-size="3.7" font-weight="bold" stroke="#000" stroke-width="0.12" text-anchor="end">30</text>
<path d="M378.3 361.4H379.2" stroke="#333" stroke-width="0.6"/>
<path d="M377.8 355H379.2" stroke="#333" stroke-width="0.6"/>
<text x="376.8" y="355.81" font-size="3.7" font-weight="bold" stroke="#000" stroke-width="0.12" text-anchor="end">40</text>
<path d="M378.3 348.6H379.2" stroke="#333" stroke-width="0.6"/>
<path d="M377.8 342.2H379.2" stroke="#333" stroke-width="0.6"/>
<text x="376.8" y="343.01" font-size="3.7" font-weight="bold" stroke="#000" stroke-width="0.12" text-anchor="end">50</text>
<path d="M378.3 335.8H379.2" stroke="#333" stroke-width="0.6"/>
<path d="M377.8 329.4H379.2" stroke="#333" stroke-width="0.6"/>
<text x="376.8" y="330.21" font-size="3.7" font-weight="bold" stroke="#000" stroke-width="0.12" text-anchor="end">60</text>
<path d="M378.3 323H379.2" stroke="#333" stroke-width="0.6"/>
<path d="M377.8 316.6H379.2" stroke="#333" stroke-width="0.6"/>
<text x="376.8" y="317.41" font-size="3.7" font-weight="bold" stroke="#000" stroke-width="0.12" text-anchor="end">70</text>
<text x="380.5" y="415.2" font-size="3.9" font-weight="bold" stroke="#000" stroke-width="0.1" text-anchor="middle">1</text>
<text x="385.7" y="415.2" font-size="3.9" font-weight="bold" stroke="#000" stroke-width="0.1" text-anchor="middle">2</text>
<text x="390.9" y="415.2" font-size="3.9" font-weight="bold" stroke="#000" stroke-width="0.1" text-anchor="middle">3</text>
<text x="396.1" y="415.2" font-size="3.9" font-weight="bold" stroke="#000" stroke-width="0.1" text-anchor="middle">4</text>
<text x="402.2" y="413.8" font-size="3.315" font-weight="bold" text-anchor="middle" transform="rotate(-90 402.2 413.8)">5.1</text>
<text x="407.4" y="413.8" font-size="3.315" font-weight="bold" text-anchor="middle" transform="rotate(-90 407.4 413.8)">5.2</text>
<text x="411.7" y="415.2" font-size="3.9" font-weight="bold" stroke="#000" stroke-width="0.1" text-anchor="middle">6</text>
<text x="416.9" y="415.2" font-size="3.9" font-weight="bold" stroke="#000" stroke-width="0.1" text-anchor="middle">7</text>
<text x="422.1" y="415.2" font-size="3.9" font-weight="bold" stroke="#000" stroke-width="0.1" text-anchor="middle">8</text>
<text x="427.3" y="415.2" font-size="3.9" font-weight="bold" stroke="#000" stroke-width="0.1" text-anchor="middle">9</text>
<text x="432.5" y="415.2" font-size="3.9" font-weight="bold" stroke="#000" stroke-width="0.1" text-anchor="middle">10</text>
<text x="437.7" y="415.2" font-size="3.9" font-weight="bold" stroke="#000" stroke-width="0.1" text-anchor="middle">11</text>
<text x="442.9" y="415.2" font-size="3.9" font-weight="bold" stroke="#000" stroke-width="0.1" text-anchor="middle">12</text>
<text x="449" y="413.8" font-size="3.315" font-weight="bold" text-anchor="middle" transform="rotate(-90 449 413.8)">13.1</text>
<text x="454.2" y="413.8" font-size="3.315" font-weight="bold" text-anchor="middle" transform="rotate(-90 454.2 413.8)">13.2</text>
<text x="458.5" y="415.2" font-size="3.9" font-weight="bold" stroke="#000" stroke-width="0.1" text-anchor="middle">14</text>
<text x="463.7" y="415.2" font-size="3.9" font-weight="bold" stroke="#000" stroke-width="0.1" text-anchor="middle">15</text>
<text x="468.9" y="415.2" font-size="3.9" font-weight="bold" stroke="#000" stroke-width="0.1" text-anchor="middle">16</text>
<text x="474.1" y="415.2" font-size="3.9" font-weight="bold" stroke="#000" stroke-width="0.1" text-anchor="middle">17</text>
<text x="479.3" y="415.2" font-size="3.9" font-weight="bold" stroke="#000" stroke-width="0.1" text-anchor="middle">18</text>
<text x="484.5" y="415.2" font-size="3.9" font-weight="bold" stroke="#000" stroke-width="0.1" text-anchor="middle">19</text>
<text x="489.7" y="415.2" font-size="3.9" font-weight="bold" stroke="#000" stroke-width="0.1" text-anchor="middle">20</text>
<text x="494.9" y="415.2" font-size="3.9" font-weight="bold" stroke="#000" stroke-width="0.1" text-anchor="middle">21</text>
<text x="500.1" y="415.2" font-size="3.9" font-weight="bold" stroke="#000" stroke-width="0.1" text-anchor="middle">22</text>
<text x="505.3" y="415.2" font-size="3.9" font-weight="bold" stroke="#000" stroke-width="0.1" text-anchor="middle">23</text>
<text x="510.5" y="415.2" font-size="3.9" font-weight="bold" stroke="#000" stroke-width="0.1" text-anchor="middle">24</text>
<text x="423.3" y="300.4" font-size="9.3" font-weight="bold" stroke="#000" stroke-width="0.22">Normal-3</text>
<text x="366.4" y="356.1" font-size="8" font-weight="bold" stroke="#000" stroke-width="0.15" text-anchor="middle" transform="rotate(-90 366.4 356.1)">% V&#946; family mRNA expression</text>
<path d="M23.7 458.5H159V553.4" fill="none" stroke="#8a8a8a" stroke-width="0.9"/>
<rect x="24.4" y="540.73" width="2.2" height="12.67" fill="#111"/>
<rect x="26.6" y="547.13" width="2.2" height="6.27" fill="#a8a8a8" stroke="#7a7a7a" stroke-width="0.5"/>
<rect x="29.6" y="541.24" width="2.2" height="12.16" fill="#111"/>
<rect x="31.8" y="546.23" width="2.2" height="7.17" fill="#a8a8a8" stroke="#7a7a7a" stroke-width="0.5"/>
<rect x="42.2" y="544.82" width="2.2" height="8.58" fill="#a8a8a8" stroke="#7a7a7a" stroke-width="0.5"/>
<rect x="45.2" y="550.97" width="2.2" height="2.43" fill="#111"/>
<rect x="47.4" y="548.02" width="2.2" height="5.38" fill="#a8a8a8" stroke="#7a7a7a" stroke-width="0.5"/>
<rect x="52.6" y="549.94" width="2.2" height="3.46" fill="#a8a8a8" stroke="#7a7a7a" stroke-width="0.5"/>
<rect x="55.6" y="542.39" width="2.2" height="11.01" fill="#111"/>
<rect x="57.8" y="544.95" width="2.2" height="8.45" fill="#a8a8a8" stroke="#7a7a7a" stroke-width="0.5"/>
<rect x="60.8" y="531" width="2.2" height="22.4" fill="#111"/>
<rect x="63" y="547.26" width="2.2" height="6.14" fill="#a8a8a8" stroke="#7a7a7a" stroke-width="0.5"/>
<rect x="66" y="552.12" width="2.2" height="1.28" fill="#111"/>
<rect x="68.2" y="548.15" width="2.2" height="5.25" fill="#a8a8a8" stroke="#7a7a7a" stroke-width="0.5"/>
<rect x="71.2" y="547.9" width="2.2" height="5.5" fill="#111"/>
<rect x="73.4" y="548.41" width="2.2" height="4.99" fill="#a8a8a8" stroke="#7a7a7a" stroke-width="0.5"/>
<rect x="78.6" y="552.38" width="2.2" height="1.02" fill="#a8a8a8" stroke="#7a7a7a" stroke-width="0.5"/>
<rect x="83.8" y="547.13" width="2.2" height="6.27" fill="#a8a8a8" stroke="#7a7a7a" stroke-width="0.5"/>
<rect x="86.8" y="548.54" width="2.2" height="4.86" fill="#111"/>
<rect x="89" y="547" width="2.2" height="6.4" fill="#a8a8a8" stroke="#7a7a7a" stroke-width="0.5"/>
<rect x="92" y="545.34" width="2.2" height="8.06" fill="#111"/>
<rect x="94.2" y="545.34" width="2.2" height="8.06" fill="#a8a8a8" stroke="#7a7a7a" stroke-width="0.5"/>
<rect x="97.2" y="542.26" width="2.2" height="11.14" fill="#111"/>
<rect x="99.4" y="547.77" width="2.2" height="5.63" fill="#a8a8a8" stroke="#7a7a7a" stroke-width="0.5"/>
<rect x="109.8" y="552.25" width="2.2" height="1.15" fill="#a8a8a8" stroke="#7a7a7a" stroke-width="0.5"/>
<rect x="112.8" y="548.15" width="2.2" height="5.25" fill="#111"/>
<rect x="115" y="543.93" width="2.2" height="9.47" fill="#a8a8a8" stroke="#7a7a7a" stroke-width="0.5"/>
<rect x="120.2" y="551.22" width="2.2" height="2.18" fill="#a8a8a8" stroke="#7a7a7a" stroke-width="0.5"/>
<rect x="123.2" y="547.38" width="2.2" height="6.02" fill="#111"/>
<rect x="125.4" y="547.38" width="2.2" height="6.02" fill="#a8a8a8" stroke="#7a7a7a" stroke-width="0.5"/>
<rect x="128.4" y="544.57" width="2.2" height="8.83" fill="#111"/>
<rect x="130.6" y="550.84" width="2.2" height="2.56" fill="#a8a8a8" stroke="#7a7a7a" stroke-width="0.5"/>
<rect x="133.6" y="542.26" width="2.2" height="11.14" fill="#111"/>
<rect x="135.8" y="544.57" width="2.2" height="8.83" fill="#a8a8a8" stroke="#7a7a7a" stroke-width="0.5"/>
<rect x="146.2" y="546.74" width="2.2" height="6.66" fill="#a8a8a8" stroke="#7a7a7a" stroke-width="0.5"/>
<path d="M26.7 528.51V534.81" stroke="#1a1a1a" stroke-width="1.05"/>
<path d="M26.7 532.91L28.15 534.51L26.7 538.81L25.25 534.51Z" fill="#111"/>
<path d="M49.9 535.29V541.59" stroke="#1a1a1a" stroke-width="1.05"/>
<path d="M49.9 539.69L51.35 541.29L49.9 545.59L48.45 541.29Z" fill="#111"/>
<path d="M56.7 528.89V535.19" stroke="#1a1a1a" stroke-width="1.05"/>
<path d="M56.7 533.29L58.15 534.89L56.7 539.19L55.25 534.89Z" fill="#111"/>
<path d="M64.1 518.91V525.21" stroke="#1a1a1a" stroke-width="1.05"/>
<path d="M64.1 523.31L65.55 524.91L64.1 529.21L62.65 524.91Z" fill="#111"/>
<path d="M64.3 531.71V538.01" stroke="#1a1a1a" stroke-width="1.05"/>
<path d="M64.3 536.11L65.75 537.71L64.3 542.01L62.85 537.71Z" fill="#111"/>
<path d="M67.1 538.75V545.05" stroke="#1a1a1a" stroke-width="1.05"/>
<path d="M67.1 543.15L68.55 544.75L67.1 549.05L65.65 544.75Z" fill="#111"/>
<path d="M80.2 541.95V548.25" stroke="#1a1a1a" stroke-width="1.05"/>
<path d="M80.2 546.35L81.65 547.95L80.2 552.25L78.75 547.95Z" fill="#111"/>
<path d="M93.1 532.22V538.52" stroke="#1a1a1a" stroke-width="1.05"/>
<path d="M93.1 536.62L94.55 538.22L93.1 542.52L91.65 538.22Z" fill="#111"/>
<path d="M110.9 539.13V545.43" stroke="#1a1a1a" stroke-width="1.05"/>
<path d="M110.9 543.53L112.35 545.13L110.9 549.43L109.45 545.13Z" fill="#111"/>
<path d="M113.9 535.68V541.98" stroke="#1a1a1a" stroke-width="1.05"/>
<path d="M113.9 540.08L115.35 541.68L113.9 545.98L112.45 541.68Z" fill="#111"/>
<path d="M116.7 532.22V538.52" stroke="#1a1a1a" stroke-width="1.05"/>
<path d="M116.7 536.62L118.15 538.22L116.7 542.52L115.25 538.22Z" fill="#111"/>
<path d="M120.2 539.13V545.43" stroke="#1a1a1a" stroke-width="1.05"/>
<path d="M120.2 543.53L121.65 545.13L120.2 549.43L118.75 545.13Z" fill="#111"/>
<path d="M129.5 532.22V538.52" stroke="#1a1a1a" stroke-width="1.05"/>
<path d="M129.5 536.62L130.95 538.22L129.5 542.52L128.05 538.22Z" fill="#111"/>
<path d="M133.1 528.76V535.06" stroke="#1a1a1a" stroke-width="1.05"/>
<path d="M133.1 533.16L134.55 534.76L133.1 539.06L131.65 534.76Z" fill="#111"/>
<path d="M147.3 535.04V541.34" stroke="#1a1a1a" stroke-width="1.05"/>
<path d="M147.3 539.44L148.75 541.04L147.3 545.34L145.85 541.04Z" fill="#111"/>
<path d="M23.7 458.5V553.4H159" fill="none" stroke="#4a4a4a" stroke-width="1.1"/>
<path d="M22.3 553.4H23.7" stroke="#333" stroke-width="0.6"/>
<text x="21.3" y="554.21" font-size="3.7" font-weight="bold" stroke="#000" stroke-width="0.12" text-anchor="end">0</text>
<path d="M22.8 547H23.7" stroke="#333" stroke-width="0.6"/>
<path d="M22.3 540.6H23.7" stroke="#333" stroke-width="0.6"/>
<text x="21.3" y="541.41" font-size="3.7" font-weight="bold" stroke="#000" stroke-width="0.12" text-anchor="end">10</text>
<path d="M22.8 534.2H23.7" stroke="#333" stroke-width="0.6"/>
<path d="M22.3 527.8H23.7" stroke="#333" stroke-width="0.6"/>
<text x="21.3" y="528.61" font-size="3.7" font-weight="bold" stroke="#000" stroke-width="0.12" text-anchor="end">20</text>
<path d="M22.8 521.4H23.7" stroke="#333" stroke-width="0.6"/>
<path d="M22.3 515H23.7" stroke="#333" stroke-width="0.6"/>
<text x="21.3" y="515.81" font-size="3.7" font-weight="bold" stroke="#000" stroke-width="0.12" text-anchor="end">30</text>
<path d="M22.8 508.6H23.7" stroke="#333" stroke-width="0.6"/>
<path d="M22.3 502.2H23.7" stroke="#333" stroke-width="0.6"/>
<text x="21.3" y="503.01" font-size="3.7" font-weight="bold" stroke="#000" stroke-width="0.12" text-anchor="end">40</text>
<path d="M22.8 495.8H23.7" stroke="#333" stroke-width="0.6"/>
<path d="M22.3 489.4H23.7" stroke="#333" stroke-width="0.6"/>
<text x="21.3" y="490.21" font-size="3.7" font-weight="bold" stroke="#000" stroke-width="0.12" text-anchor="end">50</text>
<path d="M22.8 483H23.7" stroke="#333" stroke-width="0.6"/>
<path d="M22.3 476.6H23.7" stroke="#333" stroke-width="0.6"/>
<text x="21.3" y="477.41" font-size="3.7" font-weight="bold" stroke="#000" stroke-width="0.12" text-anchor="end">60</text>
<path d="M22.8 470.2H23.7" stroke="#333" stroke-width="0.6"/>
<path d="M22.3 463.8H23.7" stroke="#333" stroke-width="0.6"/>
<text x="21.3" y="464.61" font-size="3.7" font-weight="bold" stroke="#000" stroke-width="0.12" text-anchor="end">70</text>
<text x="25" y="562.4" font-size="3.9" font-weight="bold" stroke="#000" stroke-width="0.1" text-anchor="middle">1</text>
<text x="30.2" y="562.4" font-size="3.9" font-weight="bold" stroke="#000" stroke-width="0.1" text-anchor="middle">2</text>
<text x="35.4" y="562.4" font-size="3.9" font-weight="bold" stroke="#000" stroke-width="0.1" text-anchor="middle">3</text>
<text x="40.6" y="562.4" font-size="3.9" font-weight="bold" stroke="#000" stroke-width="0.1" text-anchor="middle">4</text>
<text x="46.7" y="561" font-size="3.315" font-weight="bold" text-anchor="middle" transform="rotate(-90 46.7 561)">5.1</text>
<text x="51.9" y="561" font-size="3.315" font-weight="bold" text-anchor="middle" transform="rotate(-90 51.9 561)">5.2</text>
<text x="56.2" y="562.4" font-size="3.9" font-weight="bold" stroke="#000" stroke-width="0.1" text-anchor="middle">6</text>
<text x="61.4" y="562.4" font-size="3.9" font-weight="bold" stroke="#000" stroke-width="0.1" text-anchor="middle">7</text>
<text x="66.6" y="562.4" font-size="3.9" font-weight="bold" stroke="#000" stroke-width="0.1" text-anchor="middle">8</text>
<text x="71.8" y="562.4" font-size="3.9" font-weight="bold" stroke="#000" stroke-width="0.1" text-anchor="middle">9</text>
<text x="77" y="562.4" font-size="3.9" font-weight="bold" stroke="#000" stroke-width="0.1" text-anchor="middle">10</text>
<text x="82.2" y="562.4" font-size="3.9" font-weight="bold" stroke="#000" stroke-width="0.1" text-anchor="middle">11</text>
<text x="87.4" y="562.4" font-size="3.9" font-weight="bold" stroke="#000" stroke-width="0.1" text-anchor="middle">12</text>
<text x="93.5" y="561" font-size="3.315" font-weight="bold" text-anchor="middle" transform="rotate(-90 93.5 561)">13.1</text>
<text x="98.7" y="561" font-size="3.315" font-weight="bold" text-anchor="middle" transform="rotate(-90 98.7 561)">13.2</text>
<text x="103" y="562.4" font-size="3.9" font-weight="bold" stroke="#000" stroke-width="0.1" text-anchor="middle">14</text>
<text x="108.2" y="562.4" font-size="3.9" font-weight="bold" stroke="#000" stroke-width="0.1" text-anchor="middle">15</text>
<text x="113.4" y="562.4" font-size="3.9" font-weight="bold" stroke="#000" stroke-width="0.1" text-anchor="middle">16</text>
<text x="118.6" y="562.4" font-size="3.9" font-weight="bold" stroke="#000" stroke-width="0.1" text-anchor="middle">17</text>
<text x="123.8" y="562.4" font-size="3.9" font-weight="bold" stroke="#000" stroke-width="0.1" text-anchor="middle">18</text>
<text x="129" y="562.4" font-size="3.9" font-weight="bold" stroke="#000" stroke-width="0.1" text-anchor="middle">19</text>
<text x="134.2" y="562.4" font-size="3.9" font-weight="bold" stroke="#000" stroke-width="0.1" text-anchor="middle">20</text>
<text x="139.4" y="562.4" font-size="3.9" font-weight="bold" stroke="#000" stroke-width="0.1" text-anchor="middle">21</text>
<text x="144.6" y="562.4" font-size="3.9" font-weight="bold" stroke="#000" stroke-width="0.1" text-anchor="middle">22</text>
<text x="149.8" y="562.4" font-size="3.9" font-weight="bold" stroke="#000" stroke-width="0.1" text-anchor="middle">23</text>
<text x="155" y="562.4" font-size="3.9" font-weight="bold" stroke="#000" stroke-width="0.1" text-anchor="middle">24</text>
<text x="73.5" y="448.1" font-size="9.3" font-weight="bold" stroke="#000" stroke-width="0.22">HAM 4</text>
<text x="8.6" y="516" font-size="8" font-weight="bold" stroke="#000" stroke-width="0.15" text-anchor="middle" transform="rotate(-90 8.6 516)">% V&#946; family mRNA expression</text>
<text x="93.9" y="579.8" font-size="9.8" font-weight="bold" stroke="#000" stroke-width="0.22" text-anchor="middle">V&#946; families</text>
<path d="M380.4 458.7H515.3V550.5" fill="none" stroke="#8a8a8a" stroke-width="0.9"/>
<rect x="381.1" y="542.63" width="2.2" height="7.87" fill="#111"/>
<rect x="383.3" y="545.7" width="2.2" height="4.8" fill="#a8a8a8" stroke="#7a7a7a" stroke-width="0.5"/>
<rect x="386.3" y="536.97" width="2.2" height="13.53" fill="#111"/>
<rect x="388.5" y="544.35" width="2.2" height="6.15" fill="#a8a8a8" stroke="#7a7a7a" stroke-width="0.5"/>
<rect x="393.7" y="548.16" width="2.2" height="2.34" fill="#a8a8a8" stroke="#7a7a7a" stroke-width="0.5"/>
<rect x="398.9" y="546.69" width="2.2" height="3.81" fill="#a8a8a8" stroke="#7a7a7a" stroke-width="0.5"/>
<rect x="401.9" y="545.7" width="2.2" height="4.8" fill="#111"/>
<rect x="404.1" y="546.2" width="2.2" height="4.3" fill="#a8a8a8" stroke="#7a7a7a" stroke-width="0.5"/>
<rect x="409.3" y="547.06" width="2.2" height="3.44" fill="#a8a8a8" stroke="#7a7a7a" stroke-width="0.5"/>
<rect x="412.3" y="542.75" width="2.2" height="7.75" fill="#111"/>
<rect x="414.5" y="544.84" width="2.2" height="5.66" fill="#a8a8a8" stroke="#7a7a7a" stroke-width="0.5"/>
<rect x="417.5" y="534.88" width="2.2" height="15.62" fill="#111"/>
<rect x="419.7" y="545.33" width="2.2" height="5.17" fill="#a8a8a8" stroke="#7a7a7a" stroke-width="0.5"/>
<rect x="422.7" y="549.39" width="2.2" height="1.11" fill="#111"/>
<rect x="424.9" y="541.64" width="2.2" height="8.86" fill="#a8a8a8" stroke="#7a7a7a" stroke-width="0.5"/>
<rect x="427.9" y="545.7" width="2.2" height="4.8" fill="#111"/>
<rect x="430.1" y="544.35" width="2.2" height="6.15" fill="#a8a8a8" stroke="#7a7a7a" stroke-width="0.5"/>
<rect x="435.3" y="547.06" width="2.2" height="3.44" fill="#a8a8a8" stroke="#7a7a7a" stroke-width="0.5"/>
<rect x="438.3" y="541.64" width="2.2" height="8.86" fill="#111"/>
<rect x="440.5" y="545.7" width="2.2" height="4.8" fill="#a8a8a8" stroke="#7a7a7a" stroke-width="0.5"/>
<rect x="443.5" y="545.33" width="2.2" height="5.17" fill="#111"/>
<rect x="445.7" y="546.2" width="2.2" height="4.3" fill="#a8a8a8" stroke="#7a7a7a" stroke-width="0.5"/>
<rect x="448.7" y="541.03" width="2.2" height="9.47" fill="#111"/>
<rect x="450.9" y="540.04" width="2.2" height="10.46" fill="#a8a8a8" stroke="#7a7a7a" stroke-width="0.5"/>
<rect x="453.9" y="539.55" width="2.2" height="10.95" fill="#111"/>
<rect x="456.1" y="546.2" width="2.2" height="4.3" fill="#a8a8a8" stroke="#7a7a7a" stroke-width="0.5"/>
<rect x="461.3" y="549.52" width="2.2" height="0.98" fill="#a8a8a8" stroke="#7a7a7a" stroke-width="0.5"/>
<rect x="469.5" y="549.52" width="2.2" height="0.98" fill="#111"/>
<rect x="471.7" y="542.01" width="2.2" height="8.49" fill="#a8a8a8" stroke="#7a7a7a" stroke-width="0.5"/>
<rect x="474.7" y="549.52" width="2.2" height="0.98" fill="#111"/>
<rect x="476.9" y="544.6" width="2.2" height="5.9" fill="#a8a8a8" stroke="#7a7a7a" stroke-width="0.5"/>
<rect x="482.1" y="544.84" width="2.2" height="5.66" fill="#a8a8a8" stroke="#7a7a7a" stroke-width="0.5"/>
<rect x="485.1" y="548.04" width="2.2" height="2.46" fill="#111"/>
<rect x="487.3" y="546.69" width="2.2" height="3.81" fill="#a8a8a8" stroke="#7a7a7a" stroke-width="0.5"/>
<rect x="490.3" y="530.08" width="2.2" height="20.42" fill="#111"/>
<rect x="492.5" y="541.03" width="2.2" height="9.47" fill="#a8a8a8" stroke="#7a7a7a" stroke-width="0.5"/>
<rect x="497.7" y="547.06" width="2.2" height="3.44" fill="#a8a8a8" stroke="#7a7a7a" stroke-width="0.5"/>
<rect x="500.7" y="547.06" width="2.2" height="3.44" fill="#111"/>
<rect x="502.9" y="546.2" width="2.2" height="4.3" fill="#a8a8a8" stroke="#7a7a7a" stroke-width="0.5"/>
<rect x="513.3" y="546.69" width="2.2" height="3.81" fill="#a8a8a8" stroke="#7a7a7a" stroke-width="0.5"/>
<path d="M384.4 531.34V537.64" stroke="#1a1a1a" stroke-width="1.05"/>
<path d="M384.4 535.74L385.85 537.34L384.4 541.64L382.95 537.34Z" fill="#111"/>
<path d="M403 534.05V540.35" stroke="#1a1a1a" stroke-width="1.05"/>
<path d="M403 538.45L404.45 540.05L403 544.35L401.55 540.05Z" fill="#111"/>
<path d="M420.8 522.61V528.91" stroke="#1a1a1a" stroke-width="1.05"/>
<path d="M420.8 527.01L422.25 528.61L420.8 532.91L419.35 528.61Z" fill="#111"/>
<path d="M455 527.9V534.2" stroke="#1a1a1a" stroke-width="1.05"/>
<path d="M455 532.3L456.45 533.9L455 538.2L453.55 533.9Z" fill="#111"/>
<path d="M463.4 537.74V544.04" stroke="#1a1a1a" stroke-width="1.05"/>
<path d="M463.4 542.14L464.85 543.74L463.4 548.04L461.95 543.74Z" fill="#111"/>
<path d="M470.6 534.91V541.21" stroke="#1a1a1a" stroke-width="1.05"/>
<path d="M470.6 539.31L472.05 540.91L470.6 545.21L469.15 540.91Z" fill="#111"/>
<path d="M478 534.91V541.21" stroke="#1a1a1a" stroke-width="1.05"/>
<path d="M478 539.31L479.45 540.91L478 545.21L476.55 540.91Z" fill="#111"/>
<path d="M380.4 458.7V550.5H515.3" fill="none" stroke="#4a4a4a" stroke-width="1.1"/>
<path d="M379 550.5H380.4" stroke="#333" stroke-width="0.6"/>
<text x="378" y="551.31" font-size="3.7" font-weight="bold" stroke="#000" stroke-width="0.12" text-anchor="end">0</text>
<path d="M379.5 544.35H380.4" stroke="#333" stroke-width="0.6"/>
<path d="M379 538.2H380.4" stroke="#333" stroke-width="0.6"/>
<text x="378" y="539.01" font-size="3.7" font-weight="bold" stroke="#000" stroke-width="0.12" text-anchor="end">10</text>
<path d="M379.5 532.05H380.4" stroke="#333" stroke-width="0.6"/>
<path d="M379 525.9H380.4" stroke="#333" stroke-width="0.6"/>
<text x="378" y="526.71" font-size="3.7" font-weight="bold" stroke="#000" stroke-width="0.12" text-anchor="end">20</text>
<path d="M379.5 519.75H380.4" stroke="#333" stroke-width="0.6"/>
<path d="M379 513.6H380.4" stroke="#333" stroke-width="0.6"/>
<text x="378" y="514.41" font-size="3.7" font-weight="bold" stroke="#000" stroke-width="0.12" text-anchor="end">30</text>
<path d="M379.5 507.45H380.4" stroke="#333" stroke-width="0.6"/>
<path d="M379 501.3H380.4" stroke="#333" stroke-width="0.6"/>
<text x="378" y="502.11" font-size="3.7" font-weight="bold" stroke="#000" stroke-width="0.12" text-anchor="end">40</text>
<path d="M379.5 495.15H380.4" stroke="#333" stroke-width="0.6"/>
<path d="M379 489H380.4" stroke="#333" stroke-width="0.6"/>
<text x="378" y="489.81" font-size="3.7" font-weight="bold" stroke="#000" stroke-width="0.12" text-anchor="end">50</text>
<path d="M379.5 482.85H380.4" stroke="#333" stroke-width="0.6"/>
<path d="M379 476.7H380.4" stroke="#333" stroke-width="0.6"/>
<text x="378" y="477.51" font-size="3.7" font-weight="bold" stroke="#000" stroke-width="0.12" text-anchor="end">60</text>
<path d="M379.5 470.55H380.4" stroke="#333" stroke-width="0.6"/>
<path d="M379 464.4H380.4" stroke="#333" stroke-width="0.6"/>
<text x="378" y="465.21" font-size="3.7" font-weight="bold" stroke="#000" stroke-width="0.12" text-anchor="end">70</text>
<text x="381.7" y="559.5" font-size="3.9" font-weight="bold" stroke="#000" stroke-width="0.1" text-anchor="middle">1</text>
<text x="386.9" y="559.5" font-size="3.9" font-weight="bold" stroke="#000" stroke-width="0.1" text-anchor="middle">2</text>
<text x="392.1" y="559.5" font-size="3.9" font-weight="bold" stroke="#000" stroke-width="0.1" text-anchor="middle">3</text>
<text x="397.3" y="559.5" font-size="3.9" font-weight="bold" stroke="#000" stroke-width="0.1" text-anchor="middle">4</text>
<text x="403.4" y="558.1" font-size="3.315" font-weight="bold" text-anchor="middle" transform="rotate(-90 403.4 558.1)">5.1</text>
<text x="408.6" y="558.1" font-size="3.315" font-weight="bold" text-anchor="middle" transform="rotate(-90 408.6 558.1)">5.2</text>
<text x="412.9" y="559.5" font-size="3.9" font-weight="bold" stroke="#000" stroke-width="0.1" text-anchor="middle">6</text>
<text x="418.1" y="559.5" font-size="3.9" font-weight="bold" stroke="#000" stroke-width="0.1" text-anchor="middle">7</text>
<text x="423.3" y="559.5" font-size="3.9" font-weight="bold" stroke="#000" stroke-width="0.1" text-anchor="middle">8</text>
<text x="428.5" y="559.5" font-size="3.9" font-weight="bold" stroke="#000" stroke-width="0.1" text-anchor="middle">9</text>
<text x="433.7" y="559.5" font-size="3.9" font-weight="bold" stroke="#000" stroke-width="0.1" text-anchor="middle">10</text>
<text x="438.9" y="559.5" font-size="3.9" font-weight="bold" stroke="#000" stroke-width="0.1" text-anchor="middle">11</text>
<text x="444.1" y="559.5" font-size="3.9" font-weight="bold" stroke="#000" stroke-width="0.1" text-anchor="middle">12</text>
<text x="450.2" y="558.1" font-size="3.315" font-weight="bold" text-anchor="middle" transform="rotate(-90 450.2 558.1)">13.1</text>
<text x="455.4" y="558.1" font-size="3.315" font-weight="bold" text-anchor="middle" transform="rotate(-90 455.4 558.1)">13.2</text>
<text x="459.7" y="559.5" font-size="3.9" font-weight="bold" stroke="#000" stroke-width="0.1" text-anchor="middle">14</text>
<text x="464.9" y="559.5" font-size="3.9" font-weight="bold" stroke="#000" stroke-width="0.1" text-anchor="middle">15</text>
<text x="470.1" y="559.5" font-size="3.9" font-weight="bold" stroke="#000" stroke-width="0.1" text-anchor="middle">16</text>
<text x="475.3" y="559.5" font-size="3.9" font-weight="bold" stroke="#000" stroke-width="0.1" text-anchor="middle">17</text>
<text x="480.5" y="559.5" font-size="3.9" font-weight="bold" stroke="#000" stroke-width="0.1" text-anchor="middle">18</text>
<text x="485.7" y="559.5" font-size="3.9" font-weight="bold" stroke="#000" stroke-width="0.1" text-anchor="middle">19</text>
<text x="490.9" y="559.5" font-size="3.9" font-weight="bold" stroke="#000" stroke-width="0.1" text-anchor="middle">20</text>
<text x="496.1" y="559.5" font-size="3.9" font-weight="bold" stroke="#000" stroke-width="0.1" text-anchor="middle">21</text>
<text x="501.3" y="559.5" font-size="3.9" font-weight="bold" stroke="#000" stroke-width="0.1" text-anchor="middle">22</text>
<text x="506.5" y="559.5" font-size="3.9" font-weight="bold" stroke="#000" stroke-width="0.1" text-anchor="middle">23</text>
<text x="511.7" y="559.5" font-size="3.9" font-weight="bold" stroke="#000" stroke-width="0.1" text-anchor="middle">24</text>
<text x="424.9" y="451.9" font-size="9.3" font-weight="bold" stroke="#000" stroke-width="0.22">Normal-4</text>
<text x="366.4" y="507.1" font-size="8" font-weight="bold" stroke="#000" stroke-width="0.15" text-anchor="middle" transform="rotate(-90 366.4 507.1)">% V&#946; family mRNA expression</text>
<path d="M24.2 599.9H160V702" fill="none" stroke="#8a8a8a" stroke-width="0.9"/>
<rect x="26.5" y="692.02" width="2.2" height="9.98" fill="#a8a8a8" stroke="#7a7a7a" stroke-width="0.5"/>
<rect x="29.5" y="682.93" width="2.2" height="19.07" fill="#111"/>
<rect x="31.7" y="694.96" width="2.2" height="7.04" fill="#a8a8a8" stroke="#7a7a7a" stroke-width="0.5"/>
<rect x="36.9" y="699.7" width="2.2" height="2.3" fill="#a8a8a8" stroke="#7a7a7a" stroke-width="0.5"/>
<rect x="42.1" y="699.06" width="2.2" height="2.94" fill="#a8a8a8" stroke="#7a7a7a" stroke-width="0.5"/>
<rect x="45.1" y="698.16" width="2.2" height="3.84" fill="#111"/>
<rect x="47.3" y="697.01" width="2.2" height="4.99" fill="#a8a8a8" stroke="#7a7a7a" stroke-width="0.5"/>
<rect x="52.5" y="699.95" width="2.2" height="2.05" fill="#a8a8a8" stroke="#7a7a7a" stroke-width="0.5"/>
<rect x="57.7" y="696.75" width="2.2" height="5.25" fill="#a8a8a8" stroke="#7a7a7a" stroke-width="0.5"/>
<rect x="60.7" y="684.21" width="2.2" height="17.79" fill="#111"/>
<rect x="62.9" y="695.98" width="2.2" height="6.02" fill="#a8a8a8" stroke="#7a7a7a" stroke-width="0.5"/>
<rect x="65.9" y="660.02" width="2.2" height="41.98" fill="#111"/>
<rect x="68.1" y="691.38" width="2.2" height="10.62" fill="#a8a8a8" stroke="#7a7a7a" stroke-width="0.5"/>
<rect x="71.1" y="690.35" width="2.2" height="11.65" fill="#111"/>
<rect x="73.3" y="697.01" width="2.2" height="4.99" fill="#a8a8a8" stroke="#7a7a7a" stroke-width="0.5"/>
<rect x="83.7" y="698.67" width="2.2" height="3.33" fill="#a8a8a8" stroke="#7a7a7a" stroke-width="0.5"/>
<rect x="86.7" y="690.99" width="2.2" height="11.01" fill="#111"/>
<rect x="88.9" y="690.99" width="2.2" height="11.01" fill="#a8a8a8" stroke="#7a7a7a" stroke-width="0.5"/>
<rect x="94.1" y="693.17" width="2.2" height="8.83" fill="#a8a8a8" stroke="#7a7a7a" stroke-width="0.5"/>
<rect x="112.7" y="689.2" width="2.2" height="12.8" fill="#111"/>
<rect x="114.9" y="699.18" width="2.2" height="2.82" fill="#a8a8a8" stroke="#7a7a7a" stroke-width="0.5"/>
<rect x="120.1" y="696.88" width="2.2" height="5.12" fill="#a8a8a8" stroke="#7a7a7a" stroke-width="0.5"/>
<rect x="125.3" y="696.5" width="2.2" height="5.5" fill="#a8a8a8" stroke="#7a7a7a" stroke-width="0.5"/>
<rect x="128.3" y="696.5" width="2.2" height="5.5" fill="#111"/>
<rect x="130.5" y="697.9" width="2.2" height="4.1" fill="#a8a8a8" stroke="#7a7a7a" stroke-width="0.5"/>
<rect x="135.7" y="691.38" width="2.2" height="10.62" fill="#a8a8a8" stroke="#7a7a7a" stroke-width="0.5"/>
<rect x="140.9" y="700.98" width="2.2" height="1.02" fill="#a8a8a8" stroke="#7a7a7a" stroke-width="0.5"/>
<rect x="146.1" y="694.06" width="2.2" height="7.94" fill="#a8a8a8" stroke="#7a7a7a" stroke-width="0.5"/>
<rect x="156.5" y="700.98" width="2.2" height="1.02" fill="#a8a8a8" stroke="#7a7a7a" stroke-width="0.5"/>
<path d="M44.1 685.3V691.6" stroke="#1a1a1a" stroke-width="1.05"/>
<path d="M44.1 689.7L45.55 691.3L44.1 695.6L42.65 691.3Z" fill="#111"/>
<path d="M47.4 685.3V691.6" stroke="#1a1a1a" stroke-width="1.05"/>
<path d="M47.4 689.7L48.85 691.3L47.4 695.6L45.95 691.3Z" fill="#111"/>
<path d="M67 648.31V654.61" stroke="#1a1a1a" stroke-width="1.05"/>
<path d="M67 652.71L68.45 654.31L67 658.61L65.55 654.31Z" fill="#111"/>
<path d="M72.2 679.28V685.58" stroke="#1a1a1a" stroke-width="1.05"/>
<path d="M72.2 683.68L73.65 685.28L72.2 689.58L70.75 685.28Z" fill="#111"/>
<path d="M74.4 679.28V685.58" stroke="#1a1a1a" stroke-width="1.05"/>
<path d="M74.4 683.68L75.85 685.28L74.4 689.58L72.95 685.28Z" fill="#111"/>
<path d="M87.8 679.28V685.58" stroke="#1a1a1a" stroke-width="1.05"/>
<path d="M87.8 683.68L89.25 685.28L87.8 689.58L86.35 685.28Z" fill="#111"/>
<path d="M113.8 679.67V685.97" stroke="#1a1a1a" stroke-width="1.05"/>
<path d="M113.8 684.07L115.25 685.67L113.8 689.97L112.35 685.67Z" fill="#111"/>
<path d="M121.2 685.94V692.24" stroke="#1a1a1a" stroke-width="1.05"/>
<path d="M121.2 690.34L122.65 691.94L121.2 696.24L119.75 691.94Z" fill="#111"/>
<path d="M127.1 685.17V691.47" stroke="#1a1a1a" stroke-width="1.05"/>
<path d="M127.1 689.57L128.55 691.17L127.1 695.47L125.65 691.17Z" fill="#111"/>
<path d="M139.8 688.63V694.93" stroke="#1a1a1a" stroke-width="1.05"/>
<path d="M139.8 693.03L141.25 694.63L139.8 698.93L138.35 694.63Z" fill="#111"/>
<path d="M157.6 689.4V695.7" stroke="#1a1a1a" stroke-width="1.05"/>
<path d="M157.6 693.8L159.05 695.4L157.6 699.7L156.15 695.4Z" fill="#111"/>
<path d="M24.2 599.9V702H160" fill="none" stroke="#4a4a4a" stroke-width="1.1"/>
<path d="M22.8 702H24.2" stroke="#333" stroke-width="0.6"/>
<text x="21.8" y="702.81" font-size="3.7" font-weight="bold" stroke="#000" stroke-width="0.12" text-anchor="end">0</text>
<path d="M23.3 695.6H24.2" stroke="#333" stroke-width="0.6"/>
<path d="M22.8 689.2H24.2" stroke="#333" stroke-width="0.6"/>
<text x="21.8" y="690.01" font-size="3.7" font-weight="bold" stroke="#000" stroke-width="0.12" text-anchor="end">10</text>
<path d="M23.3 682.8H24.2" stroke="#333" stroke-width="0.6"/>
<path d="M22.8 676.4H24.2" stroke="#333" stroke-width="0.6"/>
<text x="21.8" y="677.21" font-size="3.7" font-weight="bold" stroke="#000" stroke-width="0.12" text-anchor="end">20</text>
<path d="M23.3 670H24.2" stroke="#333" stroke-width="0.6"/>
<path d="M22.8 663.6H24.2" stroke="#333" stroke-width="0.6"/>
<text x="21.8" y="664.41" font-size="3.7" font-weight="bold" stroke="#000" stroke-width="0.12" text-anchor="end">30</text>
<path d="M23.3 657.2H24.2" stroke="#333" stroke-width="0.6"/>
<path d="M22.8 650.8H24.2" stroke="#333" stroke-width="0.6"/>
<text x="21.8" y="651.61" font-size="3.7" font-weight="bold" stroke="#000" stroke-width="0.12" text-anchor="end">40</text>
<path d="M23.3 644.4H24.2" stroke="#333" stroke-width="0.6"/>
<path d="M22.8 638H24.2" stroke="#333" stroke-width="0.6"/>
<text x="21.8" y="638.81" font-size="3.7" font-weight="bold" stroke="#000" stroke-width="0.12" text-anchor="end">50</text>
<path d="M23.3 631.6H24.2" stroke="#333" stroke-width="0.6"/>
<path d="M22.8 625.2H24.2" stroke="#333" stroke-width="0.6"/>
<text x="21.8" y="626.01" font-size="3.7" font-weight="bold" stroke="#000" stroke-width="0.12" text-anchor="end">60</text>
<path d="M23.3 618.8H24.2" stroke="#333" stroke-width="0.6"/>
<path d="M22.8 612.4H24.2" stroke="#333" stroke-width="0.6"/>
<text x="21.8" y="613.21" font-size="3.7" font-weight="bold" stroke="#000" stroke-width="0.12" text-anchor="end">70</text>
<path d="M23.3 606H24.2" stroke="#333" stroke-width="0.6"/>
<text x="25.5" y="711" font-size="3.9" font-weight="bold" stroke="#000" stroke-width="0.1" text-anchor="middle">1</text>
<text x="30.7" y="711" font-size="3.9" font-weight="bold" stroke="#000" stroke-width="0.1" text-anchor="middle">2</text>
<text x="35.9" y="711" font-size="3.9" font-weight="bold" stroke="#000" stroke-width="0.1" text-anchor="middle">3</text>
<text x="41.1" y="711" font-size="3.9" font-weight="bold" stroke="#000" stroke-width="0.1" text-anchor="middle">4</text>
<text x="47.2" y="709.6" font-size="3.315" font-weight="bold" text-anchor="middle" transform="rotate(-90 47.2 709.6)">5.1</text>
<text x="52.4" y="709.6" font-size="3.315" font-weight="bold" text-anchor="middle" transform="rotate(-90 52.4 709.6)">5.2</text>
<text x="56.7" y="711" font-size="3.9" font-weight="bold" stroke="#000" stroke-width="0.1" text-anchor="middle">6</text>
<text x="61.9" y="711" font-size="3.9" font-weight="bold" stroke="#000" stroke-width="0.1" text-anchor="middle">7</text>
<text x="67.1" y="711" font-size="3.9" font-weight="bold" stroke="#000" stroke-width="0.1" text-anchor="middle">8</text>
<text x="72.3" y="711" font-size="3.9" font-weight="bold" stroke="#000" stroke-width="0.1" text-anchor="middle">9</text>
<text x="77.5" y="711" font-size="3.9" font-weight="bold" stroke="#000" stroke-width="0.1" text-anchor="middle">10</text>
<text x="82.7" y="711" font-size="3.9" font-weight="bold" stroke="#000" stroke-width="0.1" text-anchor="middle">11</text>
<text x="87.9" y="711" font-size="3.9" font-weight="bold" stroke="#000" stroke-width="0.1" text-anchor="middle">12</text>
<text x="94" y="709.6" font-size="3.315" font-weight="bold" text-anchor="middle" transform="rotate(-90 94 709.6)">13.1</text>
<text x="99.2" y="709.6" font-size="3.315" font-weight="bold" text-anchor="middle" transform="rotate(-90 99.2 709.6)">13.2</text>
<text x="103.5" y="711" font-size="3.9" font-weight="bold" stroke="#000" stroke-width="0.1" text-anchor="middle">14</text>
<text x="108.7" y="711" font-size="3.9" font-weight="bold" stroke="#000" stroke-width="0.1" text-anchor="middle">15</text>
<text x="113.9" y="711" font-size="3.9" font-weight="bold" stroke="#000" stroke-width="0.1" text-anchor="middle">16</text>
<text x="119.1" y="711" font-size="3.9" font-weight="bold" stroke="#000" stroke-width="0.1" text-anchor="middle">17</text>
<text x="124.3" y="711" font-size="3.9" font-weight="bold" stroke="#000" stroke-width="0.1" text-anchor="middle">18</text>
<text x="129.5" y="711" font-size="3.9" font-weight="bold" stroke="#000" stroke-width="0.1" text-anchor="middle">19</text>
<text x="134.7" y="711" font-size="3.9" font-weight="bold" stroke="#000" stroke-width="0.1" text-anchor="middle">20</text>
<text x="139.9" y="711" font-size="3.9" font-weight="bold" stroke="#000" stroke-width="0.1" text-anchor="middle">21</text>
<text x="145.1" y="711" font-size="3.9" font-weight="bold" stroke="#000" stroke-width="0.1" text-anchor="middle">22</text>
<text x="150.3" y="711" font-size="3.9" font-weight="bold" stroke="#000" stroke-width="0.1" text-anchor="middle">23</text>
<text x="155.5" y="711" font-size="3.9" font-weight="bold" stroke="#000" stroke-width="0.1" text-anchor="middle">24</text>
<text x="74.4" y="596" font-size="9.3" font-weight="bold" stroke="#000" stroke-width="0.22">HAM 5</text>
<text x="8.6" y="658.1" font-size="8" font-weight="bold" stroke="#000" stroke-width="0.15" text-anchor="middle" transform="rotate(-90 8.6 658.1)">% V&#946; family mRNA expression</text>
<text x="92.4" y="724.3" font-size="9.8" font-weight="bold" stroke="#000" stroke-width="0.22" text-anchor="middle">V&#946; families</text>
<path d="M383.4 599.1H518.5V693.3" fill="none" stroke="#8a8a8a" stroke-width="0.9"/>
<rect x="384.5" y="686.85" width="2.2" height="6.45" fill="#111"/>
<rect x="386.7" y="686.85" width="2.2" height="6.45" fill="#a8a8a8" stroke="#7a7a7a" stroke-width="0.5"/>
<rect x="389.7" y="676.53" width="2.2" height="16.77" fill="#111"/>
<rect x="391.9" y="686.85" width="2.2" height="6.45" fill="#a8a8a8" stroke="#7a7a7a" stroke-width="0.5"/>
<rect x="394.9" y="690.33" width="2.2" height="2.97" fill="#111"/>
<rect x="397.1" y="689.95" width="2.2" height="3.35" fill="#a8a8a8" stroke="#7a7a7a" stroke-width="0.5"/>
<rect x="400.1" y="692.01" width="2.2" height="1.29" fill="#111"/>
<rect x="402.3" y="684.53" width="2.2" height="8.77" fill="#a8a8a8" stroke="#7a7a7a" stroke-width="0.5"/>
<rect x="405.3" y="692.27" width="2.2" height="1.03" fill="#111"/>
<rect x="407.5" y="690.07" width="2.2" height="3.23" fill="#a8a8a8" stroke="#7a7a7a" stroke-width="0.5"/>
<rect x="412.7" y="687.88" width="2.2" height="5.42" fill="#a8a8a8" stroke="#7a7a7a" stroke-width="0.5"/>
<rect x="415.7" y="682.46" width="2.2" height="10.84" fill="#111"/>
<rect x="417.9" y="686.85" width="2.2" height="6.45" fill="#a8a8a8" stroke="#7a7a7a" stroke-width="0.5"/>
<rect x="420.9" y="680.92" width="2.2" height="12.38" fill="#111"/>
<rect x="423.1" y="685.43" width="2.2" height="7.87" fill="#a8a8a8" stroke="#7a7a7a" stroke-width="0.5"/>
<rect x="428.3" y="685.95" width="2.2" height="7.35" fill="#a8a8a8" stroke="#7a7a7a" stroke-width="0.5"/>
<rect x="431.3" y="690.85" width="2.2" height="2.45" fill="#111"/>
<rect x="433.5" y="688.53" width="2.2" height="4.77" fill="#a8a8a8" stroke="#7a7a7a" stroke-width="0.5"/>
<rect x="438.7" y="692.01" width="2.2" height="1.29" fill="#a8a8a8" stroke="#7a7a7a" stroke-width="0.5"/>
<rect x="441.7" y="689.56" width="2.2" height="3.74" fill="#111"/>
<rect x="443.9" y="687.88" width="2.2" height="5.42" fill="#a8a8a8" stroke="#7a7a7a" stroke-width="0.5"/>
<rect x="449.1" y="688.78" width="2.2" height="4.52" fill="#a8a8a8" stroke="#7a7a7a" stroke-width="0.5"/>
<rect x="452.1" y="682.33" width="2.2" height="10.96" fill="#111"/>
<rect x="454.3" y="686.08" width="2.2" height="7.22" fill="#a8a8a8" stroke="#7a7a7a" stroke-width="0.5"/>
<rect x="457.3" y="688.78" width="2.2" height="4.52" fill="#111"/>
<rect x="459.5" y="686.85" width="2.2" height="6.45" fill="#a8a8a8" stroke="#7a7a7a" stroke-width="0.5"/>
<rect x="472.9" y="680.01" width="2.2" height="13.29" fill="#111"/>
<rect x="475.1" y="684.4" width="2.2" height="8.9" fill="#a8a8a8" stroke="#7a7a7a" stroke-width="0.5"/>
<rect x="480.3" y="690.98" width="2.2" height="2.32" fill="#a8a8a8" stroke="#7a7a7a" stroke-width="0.5"/>
<rect x="483.3" y="690.98" width="2.2" height="2.32" fill="#111"/>
<rect x="485.5" y="689.17" width="2.2" height="4.13" fill="#a8a8a8" stroke="#7a7a7a" stroke-width="0.5"/>
<rect x="488.5" y="679.63" width="2.2" height="13.67" fill="#111"/>
<rect x="490.7" y="687.88" width="2.2" height="5.42" fill="#a8a8a8" stroke="#7a7a7a" stroke-width="0.5"/>
<rect x="493.7" y="671.5" width="2.2" height="21.8" fill="#111"/>
<rect x="495.9" y="681.95" width="2.2" height="11.35" fill="#a8a8a8" stroke="#7a7a7a" stroke-width="0.5"/>
<rect x="506.3" y="690.98" width="2.2" height="2.32" fill="#a8a8a8" stroke="#7a7a7a" stroke-width="0.5"/>
<rect x="516.7" y="690.98" width="2.2" height="2.32" fill="#a8a8a8" stroke="#7a7a7a" stroke-width="0.5"/>
<path d="M384 673.58V679.88" stroke="#1a1a1a" stroke-width="1.05"/>
<path d="M384 677.98L385.45 679.58L384 683.88L382.55 679.58Z" fill="#111"/>
<path d="M398.2 676.94V683.24" stroke="#1a1a1a" stroke-width="1.05"/>
<path d="M398.2 681.34L399.65 682.94L398.2 687.24L396.75 682.94Z" fill="#111"/>
<path d="M408.6 680.29V686.59" stroke="#1a1a1a" stroke-width="1.05"/>
<path d="M408.6 684.69L410.05 686.29L408.6 690.59L407.15 686.29Z" fill="#111"/>
<path d="M416.8 670.23V676.53" stroke="#1a1a1a" stroke-width="1.05"/>
<path d="M416.8 674.63L418.25 676.23L416.8 680.53L415.35 676.23Z" fill="#111"/>
<path d="M448 676.94V683.24" stroke="#1a1a1a" stroke-width="1.05"/>
<path d="M448 681.34L449.45 682.94L448 687.24L446.55 682.94Z" fill="#111"/>
<path d="M383.4 599.1V693.3H518.5" fill="none" stroke="#4a4a4a" stroke-width="1.1"/>
<path d="M382 693.3H383.4" stroke="#333" stroke-width="0.6"/>
<text x="381" y="694.11" font-size="3.7" font-weight="bold" stroke="#000" stroke-width="0.12" text-anchor="end">0</text>
<path d="M382.5 686.85H383.4" stroke="#333" stroke-width="0.6"/>
<path d="M382 680.4H383.4" stroke="#333" stroke-width="0.6"/>
<text x="381" y="681.21" font-size="3.7" font-weight="bold" stroke="#000" stroke-width="0.12" text-anchor="end">10</text>
<path d="M382.5 673.95H383.4" stroke="#333" stroke-width="0.6"/>
<path d="M382 667.5H383.4" stroke="#333" stroke-width="0.6"/>
<text x="381" y="668.31" font-size="3.7" font-weight="bold" stroke="#000" stroke-width="0.12" text-anchor="end">20</text>
<path d="M382.5 661.05H383.4" stroke="#333" stroke-width="0.6"/>
<path d="M382 654.6H383.4" stroke="#333" stroke-width="0.6"/>
<text x="381" y="655.41" font-size="3.7" font-weight="bold" stroke="#000" stroke-width="0.12" text-anchor="end">30</text>
<path d="M382.5 648.15H383.4" stroke="#333" stroke-width="0.6"/>
<path d="M382 641.7H383.4" stroke="#333" stroke-width="0.6"/>
<text x="381" y="642.51" font-size="3.7" font-weight="bold" stroke="#000" stroke-width="0.12" text-anchor="end">40</text>
<path d="M382.5 635.25H383.4" stroke="#333" stroke-width="0.6"/>
<path d="M382 628.8H383.4" stroke="#333" stroke-width="0.6"/>
<text x="381" y="629.61" font-size="3.7" font-weight="bold" stroke="#000" stroke-width="0.12" text-anchor="end">50</text>
<path d="M382.5 622.35H383.4" stroke="#333" stroke-width="0.6"/>
<path d="M382 615.9H383.4" stroke="#333" stroke-width="0.6"/>
<text x="381" y="616.71" font-size="3.7" font-weight="bold" stroke="#000" stroke-width="0.12" text-anchor="end">60</text>
<path d="M382.5 609.45H383.4" stroke="#333" stroke-width="0.6"/>
<path d="M382 603H383.4" stroke="#333" stroke-width="0.6"/>
<text x="381" y="603.81" font-size="3.7" font-weight="bold" stroke="#000" stroke-width="0.12" text-anchor="end">70</text>
<text x="384.7" y="702.3" font-size="3.9" font-weight="bold" stroke="#000" stroke-width="0.1" text-anchor="middle">1</text>
<text x="389.9" y="702.3" font-size="3.9" font-weight="bold" stroke="#000" stroke-width="0.1" text-anchor="middle">2</text>
<text x="395.1" y="702.3" font-size="3.9" font-weight="bold" stroke="#000" stroke-width="0.1" text-anchor="middle">3</text>
<text x="400.3" y="702.3" font-size="3.9" font-weight="bold" stroke="#000" stroke-width="0.1" text-anchor="middle">4</text>
<text x="406.4" y="700.9" font-size="3.315" font-weight="bold" text-anchor="middle" transform="rotate(-90 406.4 700.9)">5.1</text>
<text x="411.6" y="700.9" font-size="3.315" font-weight="bold" text-anchor="middle" transform="rotate(-90 411.6 700.9)">5.2</text>
<text x="415.9" y="702.3" font-size="3.9" font-weight="bold" stroke="#000" stroke-width="0.1" text-anchor="middle">6</text>
<text x="421.1" y="702.3" font-size="3.9" font-weight="bold" stroke="#000" stroke-width="0.1" text-anchor="middle">7</text>
<text x="426.3" y="702.3" font-size="3.9" font-weight="bold" stroke="#000" stroke-width="0.1" text-anchor="middle">8</text>
<text x="431.5" y="702.3" font-size="3.9" font-weight="bold" stroke="#000" stroke-width="0.1" text-anchor="middle">9</text>
<text x="436.7" y="702.3" font-size="3.9" font-weight="bold" stroke="#000" stroke-width="0.1" text-anchor="middle">10</text>
<text x="441.9" y="702.3" font-size="3.9" font-weight="bold" stroke="#000" stroke-width="0.1" text-anchor="middle">11</text>
<text x="447.1" y="702.3" font-size="3.9" font-weight="bold" stroke="#000" stroke-width="0.1" text-anchor="middle">12</text>
<text x="453.2" y="700.9" font-size="3.315" font-weight="bold" text-anchor="middle" transform="rotate(-90 453.2 700.9)">13.1</text>
<text x="458.4" y="700.9" font-size="3.315" font-weight="bold" text-anchor="middle" transform="rotate(-90 458.4 700.9)">13.2</text>
<text x="462.7" y="702.3" font-size="3.9" font-weight="bold" stroke="#000" stroke-width="0.1" text-anchor="middle">14</text>
<text x="467.9" y="702.3" font-size="3.9" font-weight="bold" stroke="#000" stroke-width="0.1" text-anchor="middle">15</text>
<text x="473.1" y="702.3" font-size="3.9" font-weight="bold" stroke="#000" stroke-width="0.1" text-anchor="middle">16</text>
<text x="478.3" y="702.3" font-size="3.9" font-weight="bold" stroke="#000" stroke-width="0.1" text-anchor="middle">17</text>
<text x="483.5" y="702.3" font-size="3.9" font-weight="bold" stroke="#000" stroke-width="0.1" text-anchor="middle">18</text>
<text x="488.7" y="702.3" font-size="3.9" font-weight="bold" stroke="#000" stroke-width="0.1" text-anchor="middle">19</text>
<text x="493.9" y="702.3" font-size="3.9" font-weight="bold" stroke="#000" stroke-width="0.1" text-anchor="middle">20</text>
<text x="499.1" y="702.3" font-size="3.9" font-weight="bold" stroke="#000" stroke-width="0.1" text-anchor="middle">21</text>
<text x="504.3" y="702.3" font-size="3.9" font-weight="bold" stroke="#000" stroke-width="0.1" text-anchor="middle">22</text>
<text x="509.5" y="702.3" font-size="3.9" font-weight="bold" stroke="#000" stroke-width="0.1" text-anchor="middle">23</text>
<text x="514.7" y="702.3" font-size="3.9" font-weight="bold" stroke="#000" stroke-width="0.1" text-anchor="middle">24</text>
<text x="425" y="590.1" font-size="9.3" font-weight="bold" stroke="#000" stroke-width="0.22">Normal-5</text>
<text x="366.4" y="655.2" font-size="8" font-weight="bold" stroke="#000" stroke-width="0.15" text-anchor="middle" transform="rotate(-90 366.4 655.2)">% V&#946; family mRNA expression</text>
<text x="449.8" y="718.9" font-size="9.8" font-weight="bold" stroke="#000" stroke-width="0.22" text-anchor="middle">V&#946; families</text>
<rect x="196.6" y="506.2" width="9.4" height="6" fill="#111"/>
<text x="211" y="511.6" font-size="7.15" stroke="#111" stroke-width="0.3">E-tetramer positive cells</text>
<rect x="196.9" y="516.5" width="8.9" height="5.7" fill="#c4c4c4" stroke="#8a8a8a" stroke-width="0.7"/>
<text x="211" y="521.9" font-size="7.15" stroke="#111" stroke-width="0.3">whole PBMCs</text>
</svg>
</body></html>
